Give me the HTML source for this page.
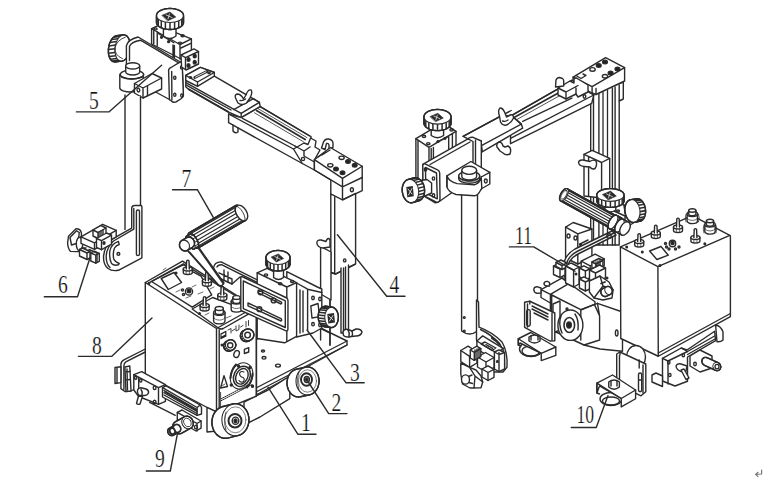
<!DOCTYPE html>
<html><head><meta charset="utf-8">
<style>
html,body{margin:0;padding:0;background:#fff;}
body{width:769px;height:480px;overflow:hidden;font-family:"Liberation Serif",serif;}
svg{display:block;}
.t{font-family:"Liberation Serif",serif;font-size:24.5px;fill:#111;stroke:#fff;stroke-width:0.22px;}
</style></head><body>
<svg width="769" height="480" viewBox="0 0 769 480">
<g fill="none" stroke="#2b2b2b" stroke-width="1.4" stroke-linejoin="round" stroke-linecap="round">

<!-- ===================== LEFT FIGURE ===================== -->
<!-- top slide block under knob A -->
<path fill="#fff" d="M151.6,28.75 L158,25.7 L191.4,38.8 L191.4,53 L181,59 L151.6,44 Z"/>
<path d="M151.6,28.75 L180,44.5 L191.4,38.8 M180,44.5 L180,59 M180.9,48 L191.4,43.2"/>
<path d="M153.75,30 L153.75,44 M157.25,32 L157.25,46 M173,45 L173,57 M174.4,45.5 L174.4,57.5"/>
<path d="M158.6,33.6 L173.9,42.75"/>
<circle cx="161.5" cy="37.3" r="0.9" fill="#222"/><circle cx="168.6" cy="41.7" r="0.9" fill="#222"/>
<ellipse cx="155.5" cy="28.9" rx="1.6" ry="1"/><ellipse cx="182.6" cy="35.8" rx="1.6" ry="1"/><ellipse cx="180" cy="43.1" rx="1.6" ry="1"/>
<!-- knob A -->
<path fill="#fff" d="M163.4,24 L163.4,36 Q169.7,41 176,36 L176,24 Z"/>
<path fill="#fff" d="M156.5,15.5 L156.6,14.9 L156.7,14.3 L157.0,13.7 L157.3,13.1 L157.8,12.5 L158.3,12.0 L158.9,11.5 L159.7,11.0 L160.5,10.6 L161.3,10.1 L162.3,9.8 L163.2,9.4 L164.3,9.2 L165.4,8.9 L166.5,8.7 L167.7,8.6 L168.8,8.5 L170.0,8.5 L171.2,8.5 L172.3,8.6 L173.5,8.7 L174.6,8.9 L175.7,9.2 L176.8,9.4 L177.7,9.8 L178.7,10.1 L179.5,10.6 L180.3,11.0 L181.1,11.5 L181.7,12.0 L182.2,12.5 L182.7,13.1 L183.0,13.7 L183.3,14.3 L183.4,14.9 L183.5,15.5 L183.5,22.5 L183.4,23.1 L183.3,23.7 L183.0,24.3 L182.7,24.9 L182.2,25.5 L181.7,26.0 L181.1,26.5 L180.3,27.0 L179.5,27.4 L178.7,27.9 L177.7,28.2 L176.8,28.6 L175.7,28.8 L174.6,29.1 L173.5,29.3 L172.3,29.4 L171.2,29.5 L170.0,29.5 L168.8,29.5 L167.7,29.4 L166.5,29.3 L165.4,29.1 L164.3,28.8 L163.2,28.6 L162.3,28.2 L161.3,27.9 L160.5,27.4 L159.7,27.0 L158.9,26.5 L158.3,26.0 L157.8,25.5 L157.3,24.9 L157.0,24.3 L156.7,23.7 L156.6,23.1 L156.5,22.5 Z"/>
<path stroke-width="1.5" stroke-linecap="butt" d="M183.3,16.7 L183.3,23.7 M181.7,19.0 L181.7,26.0 M178.7,20.9 L178.7,27.9 M174.6,22.1 L174.6,29.1 M170.0,22.5 L170.0,29.5 M165.4,22.1 L165.4,29.1 M161.3,20.9 L161.3,27.9 M158.3,19.0 L158.3,26.0 M156.7,16.7 L156.7,23.7"/>
<ellipse fill="#fff" stroke-width="1.1" cx="170.0" cy="15.5" rx="13.5" ry="7" transform="rotate(0 170.0 15.5)"/>
<path d="M156.5,15.5 L156.6,14.9 L156.7,14.3 L157.0,13.7 L157.3,13.1 L157.8,12.5 L158.3,12.0 L158.9,11.5 L159.7,11.0 L160.5,10.6 L161.3,10.1 L162.3,9.8 L163.2,9.4 L164.3,9.2 L165.4,8.9 L166.5,8.7 L167.7,8.6 L168.8,8.5 L170.0,8.5 L171.2,8.5 L172.3,8.6 L173.5,8.7 L174.6,8.9 L175.7,9.2 L176.8,9.4 L177.7,9.8 L178.7,10.1 L179.5,10.6 L180.3,11.0 L181.1,11.5 L181.7,12.0 L182.2,12.5 L182.7,13.1 L183.0,13.7 L183.3,14.3 L183.4,14.9 L183.5,15.5 L183.5,22.5 L183.4,23.1 L183.3,23.7 L183.0,24.3 L182.7,24.9 L182.2,25.5 L181.7,26.0 L181.1,26.5 L180.3,27.0 L179.5,27.4 L178.7,27.9 L177.7,28.2 L176.8,28.6 L175.7,28.8 L174.6,29.1 L173.5,29.3 L172.3,29.4 L171.2,29.5 L170.0,29.5 L168.8,29.5 L167.7,29.4 L166.5,29.3 L165.4,29.1 L164.3,28.8 L163.2,28.6 L162.3,28.2 L161.3,27.9 L160.5,27.4 L159.7,27.0 L158.9,26.5 L158.3,26.0 L157.8,25.5 L157.3,24.9 L157.0,24.3 L156.7,23.7 L156.6,23.1 L156.5,22.5 Z"/>
<path fill="#2a2a2a" stroke="#2a2a2a" stroke-width="0.6" d="M162.1,15.3 L170.0,12.0 L175.8,17.0 L167.9,20.8 Z"/>
<path stroke="#fff" stroke-width="0.7" d="M166.0,14.9 L172.0,17.6 M169.5,13.9 L168.0,18.9"/>

<!-- left knob (knurled wheel) -->
<path fill="#fff" d="M108.4,51.2 L108.4,50.0 L108.4,48.9 L108.6,47.8 L108.8,46.6 L109.0,45.5 L109.3,44.4 L109.6,43.3 L110.0,42.3 L110.5,41.4 L111.0,40.4 L111.5,39.6 L112.0,38.8 L112.6,38.1 L113.2,37.5 L113.9,37.0 L114.5,36.5 L115.2,36.2 L115.9,35.9 L116.5,35.7 L123.0,34.9 L123.7,34.9 L124.3,34.9 L125.0,35.1 L125.6,35.3 L126.2,35.6 L126.8,36.1 L127.3,36.6 L127.8,37.2 L128.3,37.9 L128.7,38.7 L129.1,39.5 L129.4,40.4 L129.6,41.4 L129.9,42.4 L130.0,43.4 L130.1,44.5 L130.1,45.6 L130.1,46.8 L130.1,47.9 L129.9,49.0 L129.7,50.2 L129.5,51.3 L129.2,52.4 L128.9,53.5 L128.5,54.5 L128.0,55.4 L127.5,56.4 L127.0,57.2 L126.5,58.0 L125.9,58.7 L125.3,59.3 L124.6,59.8 L124.0,60.3 L123.3,60.6 L122.6,60.9 L122.0,61.1 L115.5,61.9 L114.8,61.9 L114.2,61.9 L113.5,61.7 L112.9,61.5 L112.3,61.2 L111.7,60.7 L111.2,60.2 L110.7,59.6 L110.2,58.9 L109.8,58.1 L109.4,57.3 L109.1,56.4 L108.9,55.4 L108.6,54.4 L108.5,53.4 L108.4,52.3 Z"/>
<path stroke-width="1.5" stroke-linecap="butt" d="M120.7,61.1 L114.2,61.9 M118.6,60.2 L112.1,61.0 M116.9,58.4 L110.4,59.2 M115.7,55.8 L109.2,56.6 M115.0,52.5 L108.5,53.3 M114.9,48.8 L108.4,49.6 M115.4,45.1 L108.9,45.9 M116.5,41.6 L110.0,42.4 M118.1,38.7 L111.6,39.5 M120.0,36.4 L113.5,37.2 M122.2,35.2 L115.7,36.0"/>
<ellipse fill="#fff" stroke-width="1.1" cx="122.5" cy="48.0" rx="7.5" ry="13.2" transform="rotate(8 122.5 48.0)"/>
<path d="M108.4,51.2 L108.4,50.0 L108.4,48.9 L108.6,47.8 L108.8,46.6 L109.0,45.5 L109.3,44.4 L109.6,43.3 L110.0,42.3 L110.5,41.4 L111.0,40.4 L111.5,39.6 L112.0,38.8 L112.6,38.1 L113.2,37.5 L113.9,37.0 L114.5,36.5 L115.2,36.2 L115.9,35.9 L116.5,35.7 L123.0,34.9 L123.7,34.9 L124.3,34.9 L125.0,35.1 L125.6,35.3 L126.2,35.6 L126.8,36.1 L127.3,36.6 L127.8,37.2 L128.3,37.9 L128.7,38.7 L129.1,39.5 L129.4,40.4 L129.6,41.4 L129.9,42.4 L130.0,43.4 L130.1,44.5 L130.1,45.6 L130.1,46.8 L130.1,47.9 L129.9,49.0 L129.7,50.2 L129.5,51.3 L129.2,52.4 L128.9,53.5 L128.5,54.5 L128.0,55.4 L127.5,56.4 L127.0,57.2 L126.5,58.0 L125.9,58.7 L125.3,59.3 L124.6,59.8 L124.0,60.3 L123.3,60.6 L122.6,60.9 L122.0,61.1 L115.5,61.9 L114.8,61.9 L114.2,61.9 L113.5,61.7 L112.9,61.5 L112.3,61.2 L111.7,60.7 L111.2,60.2 L110.7,59.6 L110.2,58.9 L109.8,58.1 L109.4,57.3 L109.1,56.4 L108.9,55.4 L108.6,54.4 L108.5,53.4 L108.4,52.3 Z"/>
<path d="M125.3,37.2 Q117,40 115,47.5 Q114,55 122.5,58.7" stroke-width="0.9"/>

<!-- block 5 -->
<path fill="#fff" d="M126.4,61 L126.4,45.6 Q128,39.5 138.1,37 L179.5,61.5 L182,63.6 L183.4,95.6 L175.6,101.9 L169.4,99.5 L126.4,76 Z"/>
<path d="M129.5,60.5 L129.5,46.4 Q131,42 140.5,40.2 L178.75,62.8"/>
<!-- end flange -->
<path fill="#fff" d="M168.6,70 Q169,68.3 171,67.5 L179.5,62.3 Q182,61.5 182.2,64 L183.4,95 Q183.4,97 181.5,98.5 L176,101.9 Q173,103 171.5,101 L169.4,99.5 Z"/>
<path d="M171.7,71.5 L171.9,99.8"/>
<ellipse cx="174.8" cy="77.7" rx="1.1" ry="1.6"/><ellipse cx="174.8" cy="94.8" rx="1.1" ry="1.6"/>
<ellipse cx="181.6" cy="67.5" rx="1.1" ry="1.6"/><ellipse cx="181.8" cy="95.6" rx="1.1" ry="1.6"/>
<!-- mounting block with holes -->
<path fill="#fff" d="M181,55 L194,48.9 L198.5,51.5 L198.5,64 L186,70 L181.6,67 Z"/>
<path d="M181,55 L185.5,57.6 L198.5,51.5 M185.5,57.6 L185.5,69.5"/>
<ellipse cx="188.5" cy="59.4" rx="1.5" ry="1.8" fill="#222"/><ellipse cx="194.7" cy="56" rx="1.5" ry="1.8" fill="#222"/>
<ellipse cx="188.5" cy="65.5" rx="1.5" ry="1.8" fill="#222"/><ellipse cx="194.7" cy="62.2" rx="1.5" ry="1.8" fill="#222"/>
<!-- beam segment 1 -->
<path fill="#fff" d="M185.8,75.4 L200.4,67.4 L214.3,72.5 L214.3,76.1 L259.4,102.4 L260.2,106.7 L241.2,117.7 L228.1,111.8 L188.7,89.3 L185.8,87 Z"/>
<path d="M185.8,82.7 L241.2,113.3 L259.4,102.4 M241.2,113.3 L241.2,117.7 M186.3,85.2 L231,110"/>
<path stroke-width="1.9" d="M188.7,89.3 L228.1,111.8"/>
<path d="M233.7,109.6 L253.4,98.6 L259.4,102.4"/>
<!-- plate with slot -->
<path fill="#fff" d="M185.8,75.4 L200.4,67.4 L214.3,72.5 L214.3,76.1 L197.5,86.3 L185.8,80.5 Z"/>
<path d="M185.8,75.4 L197.5,82 L214.3,72.5 M197.5,82 L197.5,86.3"/>
<path stroke-width="2.8" d="M194.8,77.6 L206.8,71.4"/>
<path stroke="#fff" stroke-width="0.9" d="M195.5,77.2 L206,71.8"/>
<ellipse cx="190.5" cy="77.5" rx="1.2" ry="0.8"/><ellipse cx="209" cy="72.8" rx="1.2" ry="0.8"/>
<!-- wing nut 1 -->
<path fill="#fff" d="M236,99 Q234,95 237,94 Q241,94 243.5,99 L246,95 Q248,89 251,90 Q253,92 250,98 L246.5,103 Q242,106 238,103 Z"/>
<path d="M240,100.5 Q243,101 245.5,99"/>

<!-- rail + housing -->
<path fill="#fff" d="M228.6,114 L241.2,117.7 L260.2,106.7 L311,136.5 L311,150 L302.3,163.5 L228.6,122.7 Z"/>
<path d="M228.6,114 L293.5,149 M242.5,118.3 L295,146 M260.2,106.7 L309.5,136"/>
<path stroke-width="1.7" d="M256.5,110.5 L305.2,139.6"/>
<path stroke-width="0.8" d="M254.5,112.8 L303.5,141.8 M258,108.6 L307,137.6"/>
<path d="M233,125 L233,131 Q235,134 238,132 L238,128"/>
<!-- hook clamp at end of rail -->
<path fill="#fff" d="M293.5,149 L304,143 L308,144.5 L310.6,138 L316,141 L315,147 L320,150 L314.4,160 L314.4,170 L302.3,163.5 Z"/>
<path d="M295,146 L304,151 L310,147 M304,151 L304,156 L314.4,162"/>
<circle cx="303" cy="159" r="1.6"/>
<path fill="#fff" d="M321.5,148 L323.5,142 Q325,138.5 328.5,139 Q332.5,139.5 333,143 L333,147.5 L329,149.5 L329,145 Q328.5,143 326.5,143.5 L325,149.5 Z"/>

<!-- end block of beam -->
<path fill="#fff" d="M314.4,159.7 L330.3,147.5 L362.2,166.25 L362.2,190.6 L342.5,200 L330.8,194 L330.8,180 L314.4,170 Z"/>
<path d="M314.4,159.7 L342.5,178.4 L362.2,166.25 M342.5,178.4 L342.5,200 M314.4,170 L342.5,186.9 L362.2,177.5"/>
<path d="M322,155 L330,150 M318,157 L326,152"/>
<ellipse cx="348" cy="161.6" rx="2.3" ry="1.8" fill="#222"/><ellipse cx="354.7" cy="165.3" rx="2.3" ry="1.8" fill="#222"/><ellipse cx="336" cy="169" rx="2.3" ry="1.8" fill="#222"/><ellipse cx="342.5" cy="172.8" rx="2.3" ry="1.8" fill="#222"/>
<ellipse cx="341.6" cy="157.8" rx="2.6" ry="1.7"/><ellipse cx="330.3" cy="165.3" rx="2.6" ry="1.7"/>
<ellipse cx="351.9" cy="189.7" rx="1.5" ry="2"/>

<!-- vertical post (4) -->
<path fill="#fff" d="M330.8,194 L342.5,200 L355.6,193.5 L355.6,264 L335.6,274 L330.8,272.5 Z"/>
<path d="M334.7,197 L334.7,273.5 M330.8,272.5 L335.6,274 L354.4,264.5"/>
<ellipse cx="344.7" cy="260.4" rx="1.2" ry="1.5"/>
<path fill="#fff" d="M341,268 L341,333 L348.5,333 L348.5,265"/>
<path d="M343.5,268 L343.5,333 M345.5,267 L345.5,333"/>
<!-- clamp on block 5 (cylinder + collar + arm) -->
<path fill="#fff" d="M119.8,74.5 L119.8,88 A11,4 0 0 0 141.8,88 L143.6,74.5 Z"/>
<ellipse fill="#fff" cx="131.9" cy="74.5" rx="11.7" ry="4.5"/>
<path d="M121.5,77 Q131,81 142,77"/>
<path fill="#fff" d="M125.7,65.9 L125.7,72 A7,3 0 0 0 139.7,72 L139.7,65.9 Z"/>
<ellipse fill="#fff" cx="132.7" cy="65.9" rx="7" ry="3.1"/>
<path fill="#fff" d="M134.5,83.5 L152,73.5 L161.6,78 L161.6,89 L143,98 L134.4,93 Z"/>
<path d="M134.5,83.5 L143,88 L161.6,78 M143,88 L143,98 M147.5,86 L147.5,95.8"/>
<ellipse cx="138.4" cy="90" rx="1.3" ry="2" transform="rotate(-20 138.4 90)"/>
<!-- left rod -->
<path fill="#fff" stroke="none" d="M125,96 L140.5,96 L140.5,230 L125,230 Z"/>
<path d="M125,95 L125,229.6 M140.5,96 L140.5,205"/>
<!-- leader 5 -->
<path d="M76.4,111.9 L108.9,111.9 L161.6,65.2"/>
<text class="t" x="89" y="108.6" transform="translate(89 0) scale(0.8 1) translate(-89 0)">5</text>

<!-- bracket (torch holder plate) -->
<path fill="#fff" d="M131.7,208 Q132,205.5 134.8,205.5 L141.1,205.5 Q141.9,205.8 141.9,207 L141.9,257.8 L118.4,270.3 Q112,271.5 108,268.5 Q103,264 103.6,256 Q104.5,246 112.2,239.1 L131.7,228.1 Z"/>
<path d="M133.8,208.5 L133.8,229.2 L113.5,241 Q106.8,247 106.2,256 Q106,264 110,267.5"/>
<rect x="136.4" y="210" width="3.1" height="45.5" rx="1.55"/>
<path d="M118.4,241.4 Q111,244 109.8,251 Q109,259 111.5,263.5 Q114,266 118.4,264.8 L119.2,263.3 Q115,262 113.75,259 Q112.5,253 114.5,248 Q116,245.5 119.2,244.5 Z"/>
<circle cx="118.4" cy="253.9" r="1.4"/>

<!-- torch clamp 6 -->
<!-- thumb knob at left -->
<path fill="#fff" d="M68.5,236.3 L76,228.7 Q79,228.5 80.5,230.5 L81.5,233.5 L80.5,249 Q79.5,251.8 77,251.6 L70.5,251.4 Q68,249 67.6,243 Z"/>
<path d="M70,237.5 L76.5,230.8 L79.3,232.5 L78,243 L71.5,245 Z"/>
<ellipse fill="#fff" cx="79.5" cy="244" rx="3.2" ry="6.8"/>
<path d="M82,240 L86,240 M82,248 L86,248"/>
<path fill="#fff" d="M81.0,236.8 L102.7,224.3 L116.2,230.3 L116.2,236.8 L94.5,249.3 L81.0,243.3 Z"/><path d="M81.0,236.8 L94.5,242.8 L116.2,230.3 M94.5,242.8 L94.5,249.3"/>
<path fill="#fff" d="M93.0,230.0 L101.0,225.5 L106.0,228.0 L106.0,234.0 L98.0,238.5 L93.0,236.0 Z"/><path d="M93.0,230.0 L98.0,232.5 L106.0,228.0 M98.0,232.5 L98.0,238.5"/>
<path d="M99,232 L99,238 M101,231 L101,237 M103,230 L103,236"/>
<path fill="#fff" d="M96.5,238.5 L106.5,233.0 L111.5,235.2 L111.5,244.2 L101.5,249.7 L96.5,247.5 Z"/><path d="M96.5,238.5 L101.5,240.7 L111.5,235.2 M101.5,240.7 L101.5,249.7"/>
<path fill="#fff" d="M79.5,249.5 L82.5,248.0 L90.0,251.5 L90.0,258.0 L87.0,259.5 L79.5,256.0 Z"/><path d="M79.5,249.5 L87.0,253.0 L90.0,251.5 M87.0,253.0 L87.0,259.5"/>
<path fill="#fff" d="M90.8,253.0 L94.3,251.2 L99.3,253.4 L99.3,261.4 L95.8,263.2 L90.8,261.0 Z"/><path d="M90.8,253.0 L95.8,255.2 L99.3,253.4 M95.8,255.2 L95.8,263.2"/>
<path d="M89,249.5 L97,253 M97,253 L97,262"/>
<ellipse cx="104" cy="243" rx="1" ry="1.3" fill="#222"/>
<path d="M90,257.8 L77.5,296.8 L44.3,296.8"/>
<text class="t" x="58" y="293.0" transform="translate(58 0) scale(0.8 1) translate(-58 0)">6</text>

<!-- ===== base plate & lower body ===== -->
<path fill="#fff" d="M255,340 L300,318 L347,341 L347,345 L258,394 L210,414 Z"/>
<path d="M300,318 L330,333 M256,388 L347,341 M256,392 L347,345"/>
<ellipse cx="264" cy="357.8" rx="2" ry="1.3"/><ellipse cx="278" cy="365.6" rx="2.4" ry="1.5"/><ellipse cx="263" cy="351" rx="1.6" ry="1"/>
<!-- lower body under plate -->
<path fill="#fff" d="M244,402 L268,390 L289.8,376 L289.8,398.7 L260,417 L244,425 Z"/>
<!-- wheel 2 -->
<path fill="#fff" d="M287.0,383.0 L287.0,381.8 L287.2,380.6 L287.4,379.4 L287.7,378.2 L288.1,377.1 L288.5,376.0 L289.1,375.0 L289.7,374.0 L290.4,373.1 L291.1,372.3 L291.9,371.5 L292.8,370.9 L293.6,370.3 L294.6,369.8 L295.5,369.5 L296.5,369.2 L305.5,367.2 L306.5,367.1 L307.5,367.0 L308.5,367.1 L309.5,367.2 L310.5,367.5 L311.4,367.8 L312.4,368.3 L313.2,368.9 L314.1,369.5 L314.9,370.3 L315.6,371.1 L316.3,372.0 L316.9,373.0 L317.5,374.0 L317.9,375.1 L318.3,376.2 L318.6,377.4 L318.8,378.6 L319.0,379.8 L319.0,381.0 L319.0,382.2 L318.8,383.4 L318.6,384.6 L318.3,385.8 L317.9,386.9 L317.5,388.0 L316.9,389.0 L316.3,390.0 L315.6,390.9 L314.9,391.7 L314.1,392.5 L313.2,393.1 L312.4,393.7 L311.4,394.2 L310.5,394.5 L309.5,394.8 L300.5,396.8 L299.5,396.9 L298.5,397.0 L297.5,396.9 L296.5,396.8 L295.5,396.5 L294.6,396.2 L293.6,395.7 L292.8,395.1 L291.9,394.5 L291.1,393.7 L290.4,392.9 L289.7,392.0 L289.1,391.0 L288.5,390.0 L288.1,388.9 L287.7,387.8 L287.4,386.6 L287.2,385.4 L287.0,384.2 Z"/>
<ellipse fill="#fff" stroke-width="1.1" cx="307.5" cy="381.0" rx="11.5" ry="14" transform="rotate(0 307.5 381.0)"/>
<path d="M287.0,383.0 L287.0,381.8 L287.2,380.6 L287.4,379.4 L287.7,378.2 L288.1,377.1 L288.5,376.0 L289.1,375.0 L289.7,374.0 L290.4,373.1 L291.1,372.3 L291.9,371.5 L292.8,370.9 L293.6,370.3 L294.6,369.8 L295.5,369.5 L296.5,369.2 L305.5,367.2 L306.5,367.1 L307.5,367.0 L308.5,367.1 L309.5,367.2 L310.5,367.5 L311.4,367.8 L312.4,368.3 L313.2,368.9 L314.1,369.5 L314.9,370.3 L315.6,371.1 L316.3,372.0 L316.9,373.0 L317.5,374.0 L317.9,375.1 L318.3,376.2 L318.6,377.4 L318.8,378.6 L319.0,379.8 L319.0,381.0 L319.0,382.2 L318.8,383.4 L318.6,384.6 L318.3,385.8 L317.9,386.9 L317.5,388.0 L316.9,389.0 L316.3,390.0 L315.6,390.9 L314.9,391.7 L314.1,392.5 L313.2,393.1 L312.4,393.7 L311.4,394.2 L310.5,394.5 L309.5,394.8 L300.5,396.8 L299.5,396.9 L298.5,397.0 L297.5,396.9 L296.5,396.8 L295.5,396.5 L294.6,396.2 L293.6,395.7 L292.8,395.1 L291.9,394.5 L291.1,393.7 L290.4,392.9 L289.7,392.0 L289.1,391.0 L288.5,390.0 L288.1,388.9 L287.7,387.8 L287.4,386.6 L287.2,385.4 L287.0,384.2 Z"/>
<ellipse cx="307.5" cy="381" rx="9" ry="11.2" stroke-width="0.6"/>
<ellipse cx="306.5" cy="379.5" rx="5.5" ry="6.3" stroke-width="1.9"/>
<ellipse cx="306.8" cy="379.5" rx="2.6" ry="3"/>
<ellipse cx="306.8" cy="379.5" rx="1.2" ry="1.5" fill="#222"/>
<path d="M299,372 Q296,380 299,390" stroke-width="0.8"/>
<!-- ===== main box 8 ===== -->
<path fill="#fff" d="M145.3,282.5 L182.5,261.2 L255,307 L256.4,307 L256.4,396 L216.5,412.5 L145.3,374.4 Z"/>
<path d="M145.3,282.5 L216.5,328.5 L255,307 M216.5,328.5 L216.5,412.5 M219.2,330 L219.2,411"/>
<path d="M148,283.3 L183.4,263.8 L253,306.5"/>
<path d="M255,307 L256.4,308 L256.4,396"/>
<!-- top face panels -->
<path d="M151.5,281.5 L181.6,265.6 Q184,264.5 186,265.8 L193,271.8 L201,276.2 L211.7,294.8 L192.2,307.2 Z"/>
<path d="M192.2,309 L212.6,297.5 L233.8,305.4 L249.7,313.4 L223.2,328.5 Q221,329.5 219,328.5 Z"/>
<path d="M161.2,278.5 L174,272.5 L181.6,282.5 L168.3,289.5 Z"/>
<circle cx="189" cy="291.5" r="3.6"/><circle cx="189" cy="291" r="1.8" fill="#222"/>
<circle cx="182.5" cy="290" r="1.1"/><circle cx="183.5" cy="294.5" r="1.1"/>
<path stroke-width="0.7" d="M176,292 L180,290 M186,298 L191,296 M192,287 L196,285 M198,294 L203,292 M210,289 L214,287 M205,315 L209,313 M226,318 L231,316 M236,305 L241,303 M163,270 L166,268"/>
<circle cx="176" cy="273" r="0.9" fill="#222"/><circle cx="149" cy="283.5" r="0.7" fill="#222"/><circle cx="199.5" cy="313.5" r="0.8" fill="#222"/>
<!-- toggles/connectors on top -->
<path fill="#fff" d="M183.3,269.0 L183.3,272.5 A4.5,2.0 0 0 0 192.3,272.5 L192.3,269.0 Z"/>
<ellipse fill="#fff" cx="187.8" cy="269.0" rx="4.5" ry="2.0"/>
<path d="M186.2,270.9 L186.2,274.4 M189.4,270.9 L189.4,274.4" stroke-width="0.7"/>
<path fill="#fff" d="M186.3,269.0 L186.6,261.0 Q187.8,259.2 189.0,261.0 L189.3,269.0"/>
<path fill="#fff" d="M202.4,280.7 L202.4,284.2 A4.5,2.0 0 0 0 211.4,284.2 L211.4,280.7 Z"/>
<ellipse fill="#fff" cx="206.9" cy="280.7" rx="4.5" ry="2.0"/>
<path d="M205.3,282.6 L205.3,286.1 M208.5,282.6 L208.5,286.1" stroke-width="0.7"/>
<path fill="#fff" d="M205.4,280.7 L205.7,272.7 Q206.9,270.9 208.1,272.7 L208.4,280.7"/>
<path fill="#fff" d="M217.8,294.9 L217.8,298.4 A4.5,2.0 0 0 0 226.8,298.4 L226.8,294.9 Z"/>
<ellipse fill="#fff" cx="222.3" cy="294.9" rx="4.5" ry="2.0"/>
<path d="M220.7,296.8 L220.7,300.3 M223.9,296.8 L223.9,300.3" stroke-width="0.7"/>
<path fill="#fff" d="M220.8,294.9 L221.1,287.4 Q222.3,285.6 223.5,287.4 L223.8,294.9"/>
<path fill="#fff" d="M200.1,305.5 L200.1,309.0 A4.5,2.0 0 0 0 209.1,309.0 L209.1,305.5 Z"/>
<ellipse fill="#fff" cx="204.6" cy="305.5" rx="4.5" ry="2.0"/>
<path d="M203.0,307.4 L203.0,310.9 M206.2,307.4 L206.2,310.9" stroke-width="0.7"/>
<path fill="#fff" d="M203.1,305.5 L203.4,297.5 Q204.6,295.7 205.8,297.5 L206.1,305.5"/>
<path fill="#fff" d="M213.6,312.5 L213.6,321.0 A5.7,2.9 0 0 0 225.0,321.0 L225.0,312.5 Z"/>
<ellipse fill="#fff" cx="219.3" cy="312.5" rx="5.7" ry="2.9"/>
<path fill="#fff" d="M215.3,308.5 L215.3,312.5 A4.0,2.0 0 0 0 223.3,312.5 L223.3,308.5 Z"/>
<ellipse fill="#fff" cx="219.3" cy="308.5" rx="4.0" ry="2.0"/>
<path d="M213.6,317.2 A5.7,2.9 0 0 0 225.0,317.2" stroke-width="0.7"/>
<path fill="#fff" d="M231.2,301.5 L231.2,309.5 A5.3,2.6 0 0 0 241.8,309.5 L241.8,301.5 Z"/>
<ellipse fill="#fff" cx="236.5" cy="301.5" rx="5.3" ry="2.6"/>
<path fill="#fff" d="M232.8,297.5 L232.8,301.5 A3.7,1.9 0 0 0 240.2,301.5 L240.2,297.5 Z"/>
<ellipse fill="#fff" cx="236.5" cy="297.5" rx="3.7" ry="1.9"/>
<path d="M231.2,305.9 A5.3,2.6 0 0 0 241.8,305.9" stroke-width="0.7"/>
<!-- right face controls -->
<path fill="#222" stroke="none" d="M220.4,333.5 L226.4,330.5 L226.4,336.5 L220.4,339.5 Z"/>
<path fill="#fff" stroke="none" d="M221.5,334.5 L225.2,332.6 L225.2,334.5 L221.5,336.5 Z"/>
<path stroke-width="0.9" d="M228,330 L231,328.5 L231,333 M232,331 L235,329 M236,326 L236,331 L239,329.5 L239,325 M240.5,327 L243,325.5 M246,321.5 L246,327 M248.5,320.5 L248.5,325.5"/>
<path fill="#fff" d="M223.6,346.0 L223.6,345.5 L223.7,345.1 L223.8,344.7 L223.9,344.2 L224.1,343.8 L224.3,343.4 L224.5,343.0 L224.8,342.7 L225.1,342.3 L225.5,342.0 L225.8,341.7 L226.2,341.5 L228.0,340.5 L228.4,340.3 L228.8,340.1 L229.3,340.0 L229.7,339.9 L230.1,339.8 L230.6,339.8 L231.1,339.8 L231.5,339.9 L231.9,340.0 L232.4,340.1 L232.8,340.3 L233.2,340.5 L233.6,340.7 L233.9,341.0 L234.3,341.3 L234.6,341.7 L234.9,342.0 L235.1,342.4 L235.3,342.8 L235.5,343.2 L235.6,343.7 L235.7,344.1 L235.8,344.5 L235.8,345.0 L235.8,345.5 L235.7,345.9 L235.6,346.3 L235.5,346.8 L235.3,347.2 L235.1,347.6 L234.9,348.0 L234.6,348.3 L234.3,348.7 L233.9,349.0 L233.6,349.3 L233.2,349.5 L231.4,350.5 L231.0,350.7 L230.6,350.9 L230.1,351.0 L229.7,351.1 L229.3,351.2 L228.8,351.2 L228.3,351.2 L227.9,351.1 L227.5,351.0 L227.0,350.9 L226.6,350.7 L226.2,350.5 L225.8,350.3 L225.5,350.0 L225.1,349.7 L224.8,349.3 L224.5,349.0 L224.3,348.6 L224.1,348.2 L223.9,347.8 L223.8,347.3 L223.7,346.9 L223.6,346.5 Z"/>
<path stroke-width="1.3" stroke-linecap="butt" d="M232.9,349.7 L231.1,350.7 M230.6,350.2 L228.8,351.2 M228.3,349.7 L226.5,350.7 M226.5,348.2 L224.7,349.2 M225.5,346.2 L223.7,347.2 M225.5,343.8 L223.7,344.8 M226.5,341.8 L224.7,342.8"/>
<ellipse fill="#fff" stroke-width="1.1" cx="230.6" cy="345.0" rx="5.2" ry="5.2" transform="rotate(0 230.6 345.0)"/>
<path d="M223.6,346.0 L223.6,345.5 L223.7,345.1 L223.8,344.7 L223.9,344.2 L224.1,343.8 L224.3,343.4 L224.5,343.0 L224.8,342.7 L225.1,342.3 L225.5,342.0 L225.8,341.7 L226.2,341.5 L228.0,340.5 L228.4,340.3 L228.8,340.1 L229.3,340.0 L229.7,339.9 L230.1,339.8 L230.6,339.8 L231.1,339.8 L231.5,339.9 L231.9,340.0 L232.4,340.1 L232.8,340.3 L233.2,340.5 L233.6,340.7 L233.9,341.0 L234.3,341.3 L234.6,341.7 L234.9,342.0 L235.1,342.4 L235.3,342.8 L235.5,343.2 L235.6,343.7 L235.7,344.1 L235.8,344.5 L235.8,345.0 L235.8,345.5 L235.7,345.9 L235.6,346.3 L235.5,346.8 L235.3,347.2 L235.1,347.6 L234.9,348.0 L234.6,348.3 L234.3,348.7 L233.9,349.0 L233.6,349.3 L233.2,349.5 L231.4,350.5 L231.0,350.7 L230.6,350.9 L230.1,351.0 L229.7,351.1 L229.3,351.2 L228.8,351.2 L228.3,351.2 L227.9,351.1 L227.5,351.0 L227.0,350.9 L226.6,350.7 L226.2,350.5 L225.8,350.3 L225.5,350.0 L225.1,349.7 L224.8,349.3 L224.5,349.0 L224.3,348.6 L224.1,348.2 L223.9,347.8 L223.8,347.3 L223.7,346.9 L223.6,346.5 Z"/>
<circle cx="230.2" cy="345.3" r="2.6"/>
<path fill="#fff" d="M240.4,335.8 L240.4,335.3 L240.5,334.8 L240.6,334.3 L240.7,333.8 L240.9,333.3 L241.2,332.9 L241.4,332.5 L241.8,332.1 L242.1,331.7 L242.5,331.4 L242.9,331.0 L243.3,330.8 L245.1,329.8 L245.5,329.5 L246.0,329.3 L246.5,329.2 L247.0,329.1 L247.5,329.0 L248.0,329.0 L248.5,329.0 L249.0,329.1 L249.5,329.2 L250.0,329.3 L250.5,329.5 L250.9,329.8 L251.3,330.0 L251.7,330.4 L252.1,330.7 L252.4,331.1 L252.8,331.5 L253.0,331.9 L253.3,332.3 L253.5,332.8 L253.6,333.3 L253.7,333.8 L253.8,334.3 L253.8,334.8 L253.8,335.3 L253.7,335.8 L253.6,336.3 L253.5,336.8 L253.3,337.3 L253.0,337.7 L252.8,338.1 L252.4,338.5 L252.1,338.9 L251.7,339.2 L251.3,339.6 L250.9,339.8 L249.1,340.8 L248.7,341.1 L248.2,341.3 L247.7,341.4 L247.2,341.5 L246.7,341.6 L246.2,341.6 L245.7,341.6 L245.2,341.5 L244.7,341.4 L244.2,341.3 L243.7,341.1 L243.3,340.8 L242.9,340.6 L242.5,340.2 L242.1,339.9 L241.8,339.5 L241.4,339.1 L241.2,338.7 L240.9,338.3 L240.7,337.8 L240.6,337.3 L240.5,336.8 L240.4,336.3 Z"/>
<path stroke-width="1.3" stroke-linecap="butt" d="M250.5,340.0 L248.7,341.0 M248.0,340.6 L246.2,341.6 M245.5,340.0 L243.7,341.0 M243.5,338.4 L241.7,339.4 M242.3,336.1 L240.5,337.1 M242.3,333.5 L240.5,334.5 M243.5,331.2 L241.7,332.2"/>
<ellipse fill="#fff" stroke-width="1.1" cx="248.0" cy="334.8" rx="5.8" ry="5.8" transform="rotate(0 248.0 334.8)"/>
<path d="M240.4,335.8 L240.4,335.3 L240.5,334.8 L240.6,334.3 L240.7,333.8 L240.9,333.3 L241.2,332.9 L241.4,332.5 L241.8,332.1 L242.1,331.7 L242.5,331.4 L242.9,331.0 L243.3,330.8 L245.1,329.8 L245.5,329.5 L246.0,329.3 L246.5,329.2 L247.0,329.1 L247.5,329.0 L248.0,329.0 L248.5,329.0 L249.0,329.1 L249.5,329.2 L250.0,329.3 L250.5,329.5 L250.9,329.8 L251.3,330.0 L251.7,330.4 L252.1,330.7 L252.4,331.1 L252.8,331.5 L253.0,331.9 L253.3,332.3 L253.5,332.8 L253.6,333.3 L253.7,333.8 L253.8,334.3 L253.8,334.8 L253.8,335.3 L253.7,335.8 L253.6,336.3 L253.5,336.8 L253.3,337.3 L253.0,337.7 L252.8,338.1 L252.4,338.5 L252.1,338.9 L251.7,339.2 L251.3,339.6 L250.9,339.8 L249.1,340.8 L248.7,341.1 L248.2,341.3 L247.7,341.4 L247.2,341.5 L246.7,341.6 L246.2,341.6 L245.7,341.6 L245.2,341.5 L244.7,341.4 L244.2,341.3 L243.7,341.1 L243.3,340.8 L242.9,340.6 L242.5,340.2 L242.1,339.9 L241.8,339.5 L241.4,339.1 L241.2,338.7 L240.9,338.3 L240.7,337.8 L240.6,337.3 L240.5,336.8 L240.4,336.3 Z"/>
<circle cx="247.6" cy="335.1" r="2.8"/>
<ellipse cx="236.6" cy="354" rx="2.6" ry="3.6" transform="rotate(20 236.6 354)"/>
<path d="M244.4,349.3 L248.7,347.6 L248.7,352 L244.4,353.5 Z"/>
<ellipse cx="241.6" cy="376" rx="10.8" ry="13.6" transform="rotate(25 241.6 376)" stroke-width="1.1"/>
<path stroke-width="2" d="M236,364.5 Q231,370 230.5,378 M247,387.5 Q252,382 252.5,374"/>
<ellipse cx="241.9" cy="376.3" rx="8" ry="10.5" transform="rotate(25 241.9 376.3)" stroke-width="1.5"/>
<ellipse cx="241.9" cy="376.3" rx="5.8" ry="8.2" transform="rotate(25 241.9 376.3)"/>
<path stroke-width="1.1" d="M244,372 Q240,370.5 239.5,374 Q240,377 243,377.5 Q245.5,379 243,382 Q240,382.5 239,380.5"/>
<circle cx="238.6" cy="366.2" r="1" fill="#222"/><circle cx="231.3" cy="385" r="1" fill="#222"/><circle cx="252.5" cy="386.2" r="1" fill="#222"/><circle cx="250" cy="367.5" r="1" fill="#222"/>
<path d="M220.6,388 L224,375.6 L227.5,386.5 Z"/>
<path stroke-width="0.8" d="M222.5,385.5 L225,384"/>
<path stroke-width="1" stroke-dasharray="1.3 0.9" d="M221.3,398.7 L250,383.7 M221.3,400.6 L252,384.6"/>
<path stroke-width="0.9" d="M220.6,392.5 L220.6,407.5"/>
<circle cx="252.5" cy="386" r="0.8" fill="#222"/><circle cx="222" cy="345" r="0.8" fill="#222"/>
<!-- ===== slide 3 assembly ===== -->
<!-- wing bolt near post -->
<path fill="#fff" d="M320.6,246.3 L331,252 L331,300 L320.6,294 Z"/>
<path fill="#fff" d="M316.8,243 Q317,239.5 321,240 L326,241.5 Q327,238 329,238.5 Q330.5,240 330,243.5 L330,247 L323,248 Q317.5,247.5 316.8,243 Z"/>

<path d="M320.6,294 L320.6,340"/>
<path stroke-width="1.8" d="M330,300 L330,345"/>
<!-- right slide body (behind) -->
<path fill="#fff" d="M286.8,271.7 L317.4,287 L321.8,289 L321.8,328 L313,333 L296.6,337 L286.8,300 Z"/>
<path d="M296.6,283 L307.6,289.2 L321.8,292.5 M307.6,289.2 L307.6,330"/>
<path d="M300,290 L300,333 M303,291 L303,332"/>
<ellipse cx="313" cy="298" rx="1.3" ry="1.7"/><ellipse cx="320" cy="299" rx="1.3" ry="1.7"/><ellipse cx="313" cy="324.2" rx="1.3" ry="1.7"/><ellipse cx="320" cy="325" rx="1.3" ry="1.7"/>
<!-- long rounded frame (behind plate) -->
<path fill="#fff" d="M213.5,268.4 Q214,262 221.1,261.9 L288,295 L288,300 L240,277 L232,284 L219,278 Z"/>
<path d="M217,267 Q218,264.5 222,264.8 L285,296.5"/>
<path d="M219,272.8 L232,279 L232,284 M224,270 L224,280 M228,272 L228,282"/>
<!-- block under knob B -->
<path fill="#fff" d="M257.2,272.8 L267,268.4 L296.6,282.7 L296.6,336.3 L284.6,342.8 L257.2,338.5 Z"/>
<path d="M257.2,272.8 L286.8,287 L296.6,282.7 M286.8,287 L286.8,341"/>
<ellipse cx="266" cy="275" rx="1.7" ry="1.1"/><ellipse cx="280.2" cy="283.8" rx="1.7" ry="1.1"/><ellipse cx="292.2" cy="281.6" rx="1.7" ry="1.1"/>
<!-- slotted front plate -->
<path fill="#fff" d="M240.8,278 Q241,276 243,277 L286.8,298 Q288,299 288,301 L287.9,329.7 Q287.5,331.5 285.5,330.6 L242,311 Q240.8,310.5 240.8,309 Z"/>
<path d="M243.3,281 L285.3,300.9 L285.3,327.5 L243.3,308.6 Z"/>
<path d="M258.3,290 L281,301.8 Q282.5,303 281,304 L258.3,292.9 Z" />
<path d="M248,303 L281,318.6 Q282.3,320 281,321 L248,305.8 Z"/>
<circle cx="260.5" cy="292.3" r="2.4"/><circle cx="273.6" cy="300.5" r="2.4"/><circle cx="259.4" cy="309.2" r="2.4"/>
<!-- knob B -->
<path fill="#fff" d="M273.6,266 L273.6,277.5 Q278.5,281.5 283.5,277.5 L283.5,266 Z"/>
<path fill="#fff" d="M266.0,257.5 L266.0,256.9 L266.2,256.3 L266.4,255.7 L266.7,255.1 L267.1,254.5 L267.6,254.0 L268.2,253.5 L268.8,253.0 L269.5,252.6 L270.3,252.1 L271.1,251.8 L272.0,251.4 L272.9,251.2 L273.9,250.9 L274.9,250.7 L275.9,250.6 L277.0,250.5 L278.0,250.5 L279.0,250.5 L280.1,250.6 L281.1,250.7 L282.1,250.9 L283.1,251.2 L284.0,251.4 L284.9,251.8 L285.7,252.1 L286.5,252.6 L287.2,253.0 L287.8,253.5 L288.4,254.0 L288.9,254.5 L289.3,255.1 L289.6,255.7 L289.8,256.3 L290.0,256.9 L290.0,257.5 L290.0,264.0 L290.0,264.6 L289.8,265.2 L289.6,265.8 L289.3,266.4 L288.9,267.0 L288.4,267.5 L287.8,268.0 L287.2,268.5 L286.5,268.9 L285.7,269.4 L284.9,269.7 L284.0,270.1 L283.1,270.3 L282.1,270.6 L281.1,270.8 L280.1,270.9 L279.0,271.0 L278.0,271.0 L277.0,271.0 L275.9,270.9 L274.9,270.8 L273.9,270.6 L272.9,270.3 L272.0,270.1 L271.1,269.7 L270.3,269.4 L269.5,268.9 L268.8,268.5 L268.2,268.0 L267.6,267.5 L267.1,267.0 L266.7,266.4 L266.4,265.8 L266.2,265.2 L266.0,264.6 L266.0,264.0 Z"/>
<path stroke-width="1.5" stroke-linecap="butt" d="M289.8,258.7 L289.8,265.2 M288.4,261.0 L288.4,267.5 M285.7,262.9 L285.7,269.4 M282.1,264.1 L282.1,270.6 M278.0,264.5 L278.0,271.0 M273.9,264.1 L273.9,270.6 M270.3,262.9 L270.3,269.4 M267.6,261.0 L267.6,267.5 M266.2,258.7 L266.2,265.2"/>
<ellipse fill="#fff" stroke-width="1.1" cx="278.0" cy="257.5" rx="12" ry="7" transform="rotate(0 278.0 257.5)"/>
<path d="M266.0,257.5 L266.0,256.9 L266.2,256.3 L266.4,255.7 L266.7,255.1 L267.1,254.5 L267.6,254.0 L268.2,253.5 L268.8,253.0 L269.5,252.6 L270.3,252.1 L271.1,251.8 L272.0,251.4 L272.9,251.2 L273.9,250.9 L274.9,250.7 L275.9,250.6 L277.0,250.5 L278.0,250.5 L279.0,250.5 L280.1,250.6 L281.1,250.7 L282.1,250.9 L283.1,251.2 L284.0,251.4 L284.9,251.8 L285.7,252.1 L286.5,252.6 L287.2,253.0 L287.8,253.5 L288.4,254.0 L288.9,254.5 L289.3,255.1 L289.6,255.7 L289.8,256.3 L290.0,256.9 L290.0,257.5 L290.0,264.0 L290.0,264.6 L289.8,265.2 L289.6,265.8 L289.3,266.4 L288.9,267.0 L288.4,267.5 L287.8,268.0 L287.2,268.5 L286.5,268.9 L285.7,269.4 L284.9,269.7 L284.0,270.1 L283.1,270.3 L282.1,270.6 L281.1,270.8 L280.1,270.9 L279.0,271.0 L278.0,271.0 L277.0,271.0 L275.9,270.9 L274.9,270.8 L273.9,270.6 L272.9,270.3 L272.0,270.1 L271.1,269.7 L270.3,269.4 L269.5,268.9 L268.8,268.5 L268.2,268.0 L267.6,267.5 L267.1,267.0 L266.7,266.4 L266.4,265.8 L266.2,265.2 L266.0,264.6 L266.0,264.0 Z"/>
<path fill="#2a2a2a" stroke="#2a2a2a" stroke-width="0.6" d="M271.3,257.0 L278.4,254.0 L283.6,258.5 L276.5,261.9 Z"/>
<path stroke="#fff" stroke-width="0.7" d="M274.8,256.6 L280.2,259.1 M277.9,255.8 L276.6,260.2"/>
<!-- knob C (side) -->
<path fill="#fff" d="M310.8,306 L318,303.5 L319.6,316.6 L312,318 Z"/>
<path fill="#fff" d="M318.2,316.5 L318.2,315.6 L318.3,314.7 L318.4,313.9 L318.6,313.0 L318.8,312.2 L319.1,311.4 L319.4,310.6 L319.8,309.9 L320.2,309.3 L320.6,308.7 L321.1,308.1 L321.6,307.7 L322.1,307.3 L322.7,306.9 L323.2,306.6 L323.8,306.5 L324.4,306.3 L325.0,306.3 L325.6,306.3 L332.1,307.1 L332.7,307.3 L333.3,307.4 L333.8,307.7 L334.4,308.1 L334.9,308.5 L335.4,308.9 L335.9,309.5 L336.3,310.1 L336.7,310.7 L337.1,311.4 L337.4,312.2 L337.7,313.0 L337.9,313.8 L338.1,314.7 L338.2,315.5 L338.3,316.4 L338.3,317.3 L338.3,318.2 L338.2,319.1 L338.1,319.9 L337.9,320.8 L337.7,321.6 L337.4,322.4 L337.1,323.2 L336.7,323.9 L336.3,324.5 L335.9,325.1 L335.4,325.7 L334.9,326.1 L334.4,326.5 L333.8,326.9 L333.3,327.2 L332.7,327.3 L332.1,327.5 L331.5,327.5 L330.9,327.5 L324.4,326.7 L323.8,326.5 L323.2,326.4 L322.7,326.1 L322.1,325.7 L321.6,325.3 L321.1,324.9 L320.6,324.3 L320.2,323.7 L319.8,323.1 L319.4,322.4 L319.1,321.6 L318.8,320.8 L318.6,320.0 L318.4,319.1 L318.3,318.3 L318.2,317.4 Z"/>
<path stroke-width="1.5" stroke-linecap="butt" d="M329.6,327.1 L323.1,326.3 M327.8,325.9 L321.3,325.1 M326.4,324.0 L319.9,323.2 M325.3,321.5 L318.8,320.7 M324.8,318.8 L318.3,318.0 M324.8,315.8 L318.3,315.0 M325.3,313.1 L318.8,312.3 M326.4,310.6 L319.9,309.8 M327.8,308.7 L321.3,307.9 M329.6,307.5 L323.1,306.7 M331.5,307.1 L325.0,306.3"/>
<ellipse fill="#fff" stroke-width="1.1" cx="331.5" cy="317.3" rx="6.8" ry="10.2" transform="rotate(0 331.5 317.3)"/>
<path d="M318.2,316.5 L318.2,315.6 L318.3,314.7 L318.4,313.9 L318.6,313.0 L318.8,312.2 L319.1,311.4 L319.4,310.6 L319.8,309.9 L320.2,309.3 L320.6,308.7 L321.1,308.1 L321.6,307.7 L322.1,307.3 L322.7,306.9 L323.2,306.6 L323.8,306.5 L324.4,306.3 L325.0,306.3 L325.6,306.3 L332.1,307.1 L332.7,307.3 L333.3,307.4 L333.8,307.7 L334.4,308.1 L334.9,308.5 L335.4,308.9 L335.9,309.5 L336.3,310.1 L336.7,310.7 L337.1,311.4 L337.4,312.2 L337.7,313.0 L337.9,313.8 L338.1,314.7 L338.2,315.5 L338.3,316.4 L338.3,317.3 L338.3,318.2 L338.2,319.1 L338.1,319.9 L337.9,320.8 L337.7,321.6 L337.4,322.4 L337.1,323.2 L336.7,323.9 L336.3,324.5 L335.9,325.1 L335.4,325.7 L334.9,326.1 L334.4,326.5 L333.8,326.9 L333.3,327.2 L332.7,327.3 L332.1,327.5 L331.5,327.5 L330.9,327.5 L324.4,326.7 L323.8,326.5 L323.2,326.4 L322.7,326.1 L322.1,325.7 L321.6,325.3 L321.1,324.9 L320.6,324.3 L320.2,323.7 L319.8,323.1 L319.4,322.4 L319.1,321.6 L318.8,320.8 L318.6,320.0 L318.4,319.1 L318.3,318.3 L318.2,317.4 Z"/>
<path fill="#2a2a2a" stroke="none" d="M327.3,314 L334,313 L335,322.5 L328.3,323.5 Z"/>
<path stroke="#fff" stroke-width="0.8" d="M329,316 L333,320 M333,315.5 L329.5,321"/>
<!-- ===== handle 7 ===== -->
<!-- lever (flat bar) -->
<path fill="#fff" d="M187,250 L197,245 L224,283 Q222,287 218,285 Z"/>
<path d="M189.5,252 L219,285.5 M197,246.4 L223.5,284"/>
<!-- handle body -->
<path fill="#fff" d="M188.1,235.3 L188.1,234.8 L188.2,234.4 L188.3,234.0 L188.4,233.6 L188.6,233.3 L188.8,233.1 L189.0,232.9 L236.0,205.4 L236.3,205.3 L236.6,205.2 L236.9,205.2 L237.3,205.3 L237.7,205.4 L238.1,205.6 L238.5,205.8 L238.9,206.1 L239.4,206.4 L239.9,206.8 L240.3,207.2 L240.8,207.7 L241.3,208.2 L241.7,208.8 L242.2,209.4 L242.6,210.0 L243.0,210.6 L243.4,211.3 L243.8,211.9 L244.2,212.6 L244.5,213.3 L244.8,214.0 L245.0,214.6 L245.3,215.3 L245.5,215.9 L245.6,216.5 L245.7,217.1 L245.8,217.7 L245.9,218.2 L245.9,218.7 L245.8,219.1 L245.7,219.5 L245.6,219.9 L245.4,220.2 L245.2,220.4 L245.0,220.6 L198.0,248.1 L197.7,248.2 L197.4,248.3 L197.1,248.3 L196.7,248.2 L196.3,248.1 L195.9,247.9 L195.5,247.7 L195.1,247.4 L194.6,247.1 L194.1,246.7 L193.7,246.3 L193.2,245.8 L192.7,245.3 L192.3,244.7 L191.8,244.1 L191.4,243.5 L191.0,242.9 L190.6,242.2 L190.2,241.6 L189.8,240.9 L189.5,240.2 L189.2,239.5 L189.0,238.9 L188.7,238.2 L188.5,237.6 L188.4,237.0 L188.3,236.4 L188.2,235.8 Z"/>
<path stroke-width="1.2" stroke-linecap="butt" d="M189.7,232.7 L236.7,205.2 M191.4,233.2 L238.4,205.7 M193.4,234.9 L240.4,207.4 M195.5,237.3 L242.5,209.8 M197.2,240.3 L244.2,212.8 M198.4,243.3 L245.4,215.8 M198.9,245.8 L245.9,218.3 M198.5,247.6 L245.5,220.1"/>
<ellipse fill="#fff" stroke-width="1.1" cx="193.5" cy="240.5" rx="8.8" ry="3.4" transform="rotate(59.3 193.5 240.5)"/>
<path d="M188.1,235.3 L188.1,234.8 L188.2,234.4 L188.3,234.0 L188.4,233.6 L188.6,233.3 L188.8,233.1 L189.0,232.9 L236.0,205.4 L236.3,205.3 L236.6,205.2 L236.9,205.2 L237.3,205.3 L237.7,205.4 L238.1,205.6 L238.5,205.8 L238.9,206.1 L239.4,206.4 L239.9,206.8 L240.3,207.2 L240.8,207.7 L241.3,208.2 L241.7,208.8 L242.2,209.4 L242.6,210.0 L243.0,210.6 L243.4,211.3 L243.8,211.9 L244.2,212.6 L244.5,213.3 L244.8,214.0 L245.0,214.6 L245.3,215.3 L245.5,215.9 L245.6,216.5 L245.7,217.1 L245.8,217.7 L245.9,218.2 L245.9,218.7 L245.8,219.1 L245.7,219.5 L245.6,219.9 L245.4,220.2 L245.2,220.4 L245.0,220.6 L198.0,248.1 L197.7,248.2 L197.4,248.3 L197.1,248.3 L196.7,248.2 L196.3,248.1 L195.9,247.9 L195.5,247.7 L195.1,247.4 L194.6,247.1 L194.1,246.7 L193.7,246.3 L193.2,245.8 L192.7,245.3 L192.3,244.7 L191.8,244.1 L191.4,243.5 L191.0,242.9 L190.6,242.2 L190.2,241.6 L189.8,240.9 L189.5,240.2 L189.2,239.5 L189.0,238.9 L188.7,238.2 L188.5,237.6 L188.4,237.0 L188.3,236.4 L188.2,235.8 Z"/>
<ellipse fill="#fff" cx="241.5" cy="213" rx="8.6" ry="5.2" transform="rotate(59.3 241.5 213)"/>
<ellipse cx="240" cy="213.8" rx="8.6" ry="3.2" transform="rotate(59.3 240 213.8)" stroke-width="0.8"/>
<!-- collar + nut at left end -->
<path fill="#fff" d="M185.9,238.1 L185.9,237.7 L185.9,237.3 L186.0,237.0 L186.1,236.7 L186.3,236.4 L186.5,236.2 L186.7,236.1 L190.2,234.1 L190.4,233.9 L190.7,233.9 L191.0,233.9 L191.3,233.9 L191.6,234.0 L192.0,234.1 L192.3,234.3 L192.7,234.6 L193.1,234.9 L193.5,235.2 L193.9,235.5 L194.3,235.9 L194.7,236.4 L195.1,236.9 L195.5,237.4 L195.9,237.9 L196.2,238.4 L196.6,239.0 L196.9,239.5 L197.2,240.1 L197.5,240.7 L197.7,241.3 L198.0,241.8 L198.1,242.4 L198.3,242.9 L198.4,243.5 L198.5,244.0 L198.6,244.5 L198.6,244.9 L198.6,245.3 L198.6,245.7 L198.5,246.0 L198.4,246.3 L198.2,246.6 L198.0,246.8 L197.8,246.9 L194.3,248.9 L194.1,249.1 L193.8,249.1 L193.5,249.1 L193.2,249.1 L192.9,249.0 L192.5,248.9 L192.2,248.7 L191.8,248.4 L191.4,248.1 L191.0,247.8 L190.6,247.5 L190.2,247.1 L189.8,246.6 L189.4,246.1 L189.0,245.6 L188.6,245.1 L188.3,244.6 L187.9,244.0 L187.6,243.5 L187.3,242.9 L187.0,242.3 L186.8,241.7 L186.5,241.2 L186.4,240.6 L186.2,240.1 L186.1,239.5 L186.0,239.0 L185.9,238.5 Z"/>
<path stroke-width="1" stroke-linecap="butt" d="M187.5,235.9 L191.0,233.9 M189.6,236.9 L193.1,234.9 M192.0,239.4 L195.5,237.4 M194.0,242.7 L197.5,240.7 M195.0,246.0 L198.5,244.0 M194.9,248.3 L198.4,246.3"/>
<ellipse fill="#fff" stroke-width="1.1" cx="190.5" cy="242.5" rx="7.5" ry="3" transform="rotate(59.3 190.5 242.5)"/>
<path d="M185.9,238.1 L185.9,237.7 L185.9,237.3 L186.0,237.0 L186.1,236.7 L186.3,236.4 L186.5,236.2 L186.7,236.1 L190.2,234.1 L190.4,233.9 L190.7,233.9 L191.0,233.9 L191.3,233.9 L191.6,234.0 L192.0,234.1 L192.3,234.3 L192.7,234.6 L193.1,234.9 L193.5,235.2 L193.9,235.5 L194.3,235.9 L194.7,236.4 L195.1,236.9 L195.5,237.4 L195.9,237.9 L196.2,238.4 L196.6,239.0 L196.9,239.5 L197.2,240.1 L197.5,240.7 L197.7,241.3 L198.0,241.8 L198.1,242.4 L198.3,242.9 L198.4,243.5 L198.5,244.0 L198.6,244.5 L198.6,244.9 L198.6,245.3 L198.6,245.7 L198.5,246.0 L198.4,246.3 L198.2,246.6 L198.0,246.8 L197.8,246.9 L194.3,248.9 L194.1,249.1 L193.8,249.1 L193.5,249.1 L193.2,249.1 L192.9,249.0 L192.5,248.9 L192.2,248.7 L191.8,248.4 L191.4,248.1 L191.0,247.8 L190.6,247.5 L190.2,247.1 L189.8,246.6 L189.4,246.1 L189.0,245.6 L188.6,245.1 L188.3,244.6 L187.9,244.0 L187.6,243.5 L187.3,242.9 L187.0,242.3 L186.8,241.7 L186.5,241.2 L186.4,240.6 L186.2,240.1 L186.1,239.5 L186.0,239.0 L185.9,238.5 Z"/>
<path fill="#fff" d="M179.5,244.7 L179.5,244.3 L179.6,243.8 L179.7,243.4 L179.8,243.0 L180.0,242.6 L180.2,242.2 L180.4,241.8 L180.7,241.5 L181.0,241.2 L181.3,240.9 L181.6,240.7 L186.6,237.7 L187.0,237.5 L187.4,237.3 L187.8,237.2 L188.2,237.1 L188.7,237.1 L189.1,237.1 L189.5,237.2 L190.0,237.2 L190.4,237.4 L190.8,237.5 L191.2,237.7 L191.6,238.0 L192.0,238.2 L192.4,238.6 L192.7,238.9 L193.1,239.3 L193.4,239.6 L193.6,240.0 L193.9,240.5 L194.1,240.9 L194.2,241.4 L194.4,241.8 L194.4,242.3 L194.5,242.8 L194.5,243.3 L194.5,243.7 L194.4,244.2 L194.3,244.6 L194.2,245.0 L194.0,245.4 L193.8,245.8 L193.6,246.2 L193.3,246.5 L193.0,246.8 L192.7,247.1 L192.4,247.3 L187.4,250.3 L187.0,250.5 L186.6,250.7 L186.2,250.8 L185.8,250.9 L185.3,250.9 L184.9,250.9 L184.5,250.8 L184.0,250.8 L183.6,250.6 L183.2,250.5 L182.8,250.3 L182.4,250.0 L182.0,249.8 L181.6,249.4 L181.3,249.1 L180.9,248.7 L180.6,248.4 L180.4,248.0 L180.1,247.5 L179.9,247.1 L179.8,246.6 L179.6,246.2 L179.6,245.7 L179.5,245.2 Z"/>
<ellipse fill="#fff" stroke-width="1.1" cx="184.5" cy="245.5" rx="5.6" ry="4.8" transform="rotate(59.3 184.5 245.5)"/>
<path d="M179.5,244.7 L179.5,244.3 L179.6,243.8 L179.7,243.4 L179.8,243.0 L180.0,242.6 L180.2,242.2 L180.4,241.8 L180.7,241.5 L181.0,241.2 L181.3,240.9 L181.6,240.7 L186.6,237.7 L187.0,237.5 L187.4,237.3 L187.8,237.2 L188.2,237.1 L188.7,237.1 L189.1,237.1 L189.5,237.2 L190.0,237.2 L190.4,237.4 L190.8,237.5 L191.2,237.7 L191.6,238.0 L192.0,238.2 L192.4,238.6 L192.7,238.9 L193.1,239.3 L193.4,239.6 L193.6,240.0 L193.9,240.5 L194.1,240.9 L194.2,241.4 L194.4,241.8 L194.4,242.3 L194.5,242.8 L194.5,243.3 L194.5,243.7 L194.4,244.2 L194.3,244.6 L194.2,245.0 L194.0,245.4 L193.8,245.8 L193.6,246.2 L193.3,246.5 L193.0,246.8 L192.7,247.1 L192.4,247.3 L187.4,250.3 L187.0,250.5 L186.6,250.7 L186.2,250.8 L185.8,250.9 L185.3,250.9 L184.9,250.9 L184.5,250.8 L184.0,250.8 L183.6,250.6 L183.2,250.5 L182.8,250.3 L182.4,250.0 L182.0,249.8 L181.6,249.4 L181.3,249.1 L180.9,248.7 L180.6,248.4 L180.4,248.0 L180.1,247.5 L179.9,247.1 L179.8,246.6 L179.6,246.2 L179.6,245.7 L179.5,245.2 Z"/>
<path d="M197.5,189.8 L172.5,189.8 M197.5,189.8 L213.3,217.3"/>
<text class="t" x="181.5" y="187.2" transform="translate(181.5 0) scale(0.8 1) translate(-181.5 0)">7</text>
<!-- ===== front: end bracket, slide 9 ===== -->
<!-- lower body under box (front) -->
<path fill="#fff" d="M207,407.4 L217,412 L217,431 L207,432 Z"/>
<!-- end bracket (U plate) -->
<path fill="#fff" d="M145.3,349 L123.9,359.9 Q120.9,361.5 120.9,364.5 L120.9,388.6 L124.9,391.5 L131,391 L145.3,383 Z"/>
<path d="M145.3,352 L125.8,361.8 Q123.9,363 123.9,366 L123.9,389.5"/>
<path fill="#fff" d="M115,367.5 L120.9,366.8 L120.9,382.6 L115,383.5 Z"/>
<path d="M117,368.5 L117,382.5"/>
<path fill="#fff" d="M124.9,367 L129.8,366 L131,391 L126,391.5 Z"/>
<path d="M127,369 L127.5,390 M126,372 L130,371.5 M126,380 L130,379.5"/>
<!-- slide block (front plate) -->
<path fill="#fff" d="M133.8,374.7 L141.7,371.7 L165.4,384.6 L165.4,401.4 L158.5,404.4 L138.7,396.5 L133.8,390 Z"/>
<path d="M133.8,374.7 L158.5,387.6 L165.4,384.6 M158.5,387.6 L158.5,404.4 M138.7,377.5 L138.7,396.5"/>
<ellipse cx="135.7" cy="377.7" rx="1.2" ry="1.5"/><ellipse cx="140.7" cy="380.6" rx="1.2" ry="1.5"/>
<ellipse cx="154.6" cy="387.8" rx="1.4" ry="1.8"/><ellipse cx="154.6" cy="402" rx="1.4" ry="1.8"/>
<!-- wing screw -->
<path fill="#fff" d="M137.5,392 Q137,388 141,387.8 L146,389 Q149,390 148.5,393 Q147,396 143,395.5 L139.5,395.5 Q137.7,394.5 137.5,392 Z"/>
<path d="M141,389.5 Q143,392 142,395"/>
<path fill="#fff" d="M138.5,396 L142.5,396.5 L140,404 Q138,405 136.5,403.5 Z"/>
<!-- rail -->
<path fill="#fff" d="M162.5,387.6 L166,385.8 L200.1,405 L201.5,407.4 L201.5,414 L197.1,415.3 L162.5,397 Z"/>
<path d="M162.5,387.6 L197.1,407.5 L200.1,405 M197.1,407.5 L197.1,415.3"/>
<path d="M164,390.5 L197,409.5 M164,392.7 L197,411.5 M164,395 L197,413.5"/>
<path stroke-width="1.5" d="M165,391.6 L196.5,410.4"/>
<path d="M149.6,402.4 L175.3,415.3"/>
<!-- clamp plate around knob 9 -->
<path fill="#fff" d="M177.3,412.3 L182,410 L201.1,421 L201.1,428.2 L196,431 L177.3,420 Z"/>
<path d="M177.3,412.3 L197,423.5 L201.1,421 M197,423.5 L197,431"/>
<ellipse cx="196" cy="427" rx="1.5" ry="1.9"/>
<!-- knob 9 connector -->
<path fill="#fff" d="M172.7,426.5 L172.8,426.0 L172.8,425.5 L172.9,425.0 L173.1,424.5 L173.3,424.0 L173.5,423.6 L173.8,423.2 L174.1,422.8 L174.5,422.4 L174.8,422.1 L175.2,421.9 L184.2,416.9 L184.7,416.7 L185.1,416.5 L185.6,416.4 L186.1,416.3 L186.6,416.2 L187.1,416.2 L187.6,416.3 L188.1,416.4 L188.6,416.6 L189.1,416.8 L189.5,417.0 L190.0,417.3 L190.4,417.6 L190.9,418.0 L191.3,418.4 L191.6,418.8 L192.0,419.3 L192.3,419.8 L192.5,420.3 L192.8,420.8 L192.9,421.3 L193.1,421.8 L193.2,422.4 L193.2,422.9 L193.3,423.5 L193.2,424.0 L193.2,424.5 L193.1,425.0 L192.9,425.5 L192.7,426.0 L192.5,426.4 L192.2,426.8 L191.9,427.2 L191.5,427.6 L191.2,427.9 L190.8,428.1 L181.8,433.1 L181.3,433.3 L180.9,433.5 L180.4,433.6 L179.9,433.7 L179.4,433.8 L178.9,433.8 L178.4,433.7 L177.9,433.6 L177.4,433.4 L176.9,433.2 L176.5,433.0 L176.0,432.7 L175.6,432.4 L175.1,432.0 L174.7,431.6 L174.4,431.2 L174.0,430.7 L173.7,430.2 L173.5,429.7 L173.2,429.2 L173.1,428.7 L172.9,428.2 L172.8,427.6 L172.8,427.1 Z"/>
<ellipse fill="#fff" stroke-width="1.1" cx="187.5" cy="422.5" rx="5.5" ry="6.5" transform="rotate(-30 187.5 422.5)"/>
<path d="M172.7,426.5 L172.8,426.0 L172.8,425.5 L172.9,425.0 L173.1,424.5 L173.3,424.0 L173.5,423.6 L173.8,423.2 L174.1,422.8 L174.5,422.4 L174.8,422.1 L175.2,421.9 L184.2,416.9 L184.7,416.7 L185.1,416.5 L185.6,416.4 L186.1,416.3 L186.6,416.2 L187.1,416.2 L187.6,416.3 L188.1,416.4 L188.6,416.6 L189.1,416.8 L189.5,417.0 L190.0,417.3 L190.4,417.6 L190.9,418.0 L191.3,418.4 L191.6,418.8 L192.0,419.3 L192.3,419.8 L192.5,420.3 L192.8,420.8 L192.9,421.3 L193.1,421.8 L193.2,422.4 L193.2,422.9 L193.3,423.5 L193.2,424.0 L193.2,424.5 L193.1,425.0 L192.9,425.5 L192.7,426.0 L192.5,426.4 L192.2,426.8 L191.9,427.2 L191.5,427.6 L191.2,427.9 L190.8,428.1 L181.8,433.1 L181.3,433.3 L180.9,433.5 L180.4,433.6 L179.9,433.7 L179.4,433.8 L178.9,433.8 L178.4,433.7 L177.9,433.6 L177.4,433.4 L176.9,433.2 L176.5,433.0 L176.0,432.7 L175.6,432.4 L175.1,432.0 L174.7,431.6 L174.4,431.2 L174.0,430.7 L173.7,430.2 L173.5,429.7 L173.2,429.2 L173.1,428.7 L172.9,428.2 L172.8,427.6 L172.8,427.1 Z"/>
<ellipse cx="187.5" cy="422.5" rx="3.5" ry="4.5" transform="rotate(-30 187.5 422.5)" stroke-width="0.8"/>
<path fill="#fff" d="M167.7,431.2 L167.7,430.8 L167.8,430.5 L167.8,430.2 L167.9,429.9 L168.0,429.6 L168.2,429.4 L168.3,429.1 L168.5,428.9 L168.7,428.7 L169.0,428.5 L169.2,428.3 L175.2,424.8 L175.5,424.7 L175.7,424.6 L176.0,424.5 L176.3,424.5 L176.6,424.5 L176.9,424.5 L177.2,424.5 L177.5,424.6 L177.8,424.7 L178.1,424.8 L178.4,425.0 L178.7,425.1 L178.9,425.3 L179.2,425.6 L179.4,425.8 L179.7,426.1 L179.9,426.4 L180.1,426.7 L180.2,427.0 L180.4,427.3 L180.5,427.6 L180.6,427.9 L180.6,428.3 L180.7,428.6 L180.7,428.9 L180.7,429.3 L180.6,429.6 L180.6,429.9 L180.5,430.2 L180.4,430.5 L180.2,430.7 L180.1,431.0 L179.9,431.2 L179.7,431.4 L179.4,431.6 L179.2,431.8 L173.2,435.3 L172.9,435.4 L172.7,435.5 L172.4,435.6 L172.1,435.6 L171.8,435.6 L171.5,435.6 L171.2,435.6 L170.9,435.5 L170.6,435.4 L170.3,435.3 L170.0,435.1 L169.7,435.0 L169.5,434.8 L169.2,434.5 L169.0,434.3 L168.7,434.0 L168.5,433.7 L168.3,433.4 L168.2,433.1 L168.0,432.8 L167.9,432.5 L167.8,432.2 L167.8,431.8 L167.7,431.5 Z"/>
<path stroke-width="0.9" stroke-linecap="butt" d="M177.1,432.1 L171.1,435.6 M175.1,430.9 L169.1,434.4 M173.9,428.8 L167.9,432.3 M173.9,426.5 L167.9,430.0"/>
<ellipse fill="#fff" stroke-width="1.1" cx="177.2" cy="428.3" rx="3.3" ry="4" transform="rotate(-30 177.2 428.3)"/>
<path d="M167.7,431.2 L167.7,430.8 L167.8,430.5 L167.8,430.2 L167.9,429.9 L168.0,429.6 L168.2,429.4 L168.3,429.1 L168.5,428.9 L168.7,428.7 L169.0,428.5 L169.2,428.3 L175.2,424.8 L175.5,424.7 L175.7,424.6 L176.0,424.5 L176.3,424.5 L176.6,424.5 L176.9,424.5 L177.2,424.5 L177.5,424.6 L177.8,424.7 L178.1,424.8 L178.4,425.0 L178.7,425.1 L178.9,425.3 L179.2,425.6 L179.4,425.8 L179.7,426.1 L179.9,426.4 L180.1,426.7 L180.2,427.0 L180.4,427.3 L180.5,427.6 L180.6,427.9 L180.6,428.3 L180.7,428.6 L180.7,428.9 L180.7,429.3 L180.6,429.6 L180.6,429.9 L180.5,430.2 L180.4,430.5 L180.2,430.7 L180.1,431.0 L179.9,431.2 L179.7,431.4 L179.4,431.6 L179.2,431.8 L173.2,435.3 L172.9,435.4 L172.7,435.5 L172.4,435.6 L172.1,435.6 L171.8,435.6 L171.5,435.6 L171.2,435.6 L170.9,435.5 L170.6,435.4 L170.3,435.3 L170.0,435.1 L169.7,435.0 L169.5,434.8 L169.2,434.5 L169.0,434.3 L168.7,434.0 L168.5,433.7 L168.3,433.4 L168.2,433.1 L168.0,432.8 L167.9,432.5 L167.8,432.2 L167.8,431.8 L167.7,431.5 Z"/>
<ellipse cx="172.4" cy="431.2" rx="2.6" ry="3.1" transform="rotate(-30 172.4 431.2)" fill="#fff" stroke-width="1.9"/>
<path d="M177.5,433.3 L170.3,471 L146.3,471"/>
<text class="t" x="155" y="467.5" transform="translate(155 0) scale(0.8 1) translate(-155 0)">9</text>
<!-- wheel 1 -->
<path fill="#fff" d="M211.9,422.3 L212.0,420.9 L212.1,419.5 L212.4,418.2 L212.7,416.8 L213.2,415.5 L213.7,414.3 L214.3,413.1 L215.1,412.0 L215.9,411.0 L216.7,410.0 L217.7,409.2 L218.7,408.4 L219.7,407.8 L220.8,407.3 L221.9,406.8 L223.1,406.5 L233.1,404.0 L234.2,403.9 L235.4,403.8 L236.6,403.9 L237.7,404.0 L238.9,404.3 L240.0,404.8 L241.1,405.3 L242.2,405.9 L243.1,406.7 L244.1,407.5 L244.9,408.5 L245.7,409.5 L246.5,410.6 L247.1,411.8 L247.6,413.0 L248.1,414.3 L248.4,415.7 L248.7,417.0 L248.8,418.4 L248.9,419.8 L248.8,421.2 L248.7,422.6 L248.4,423.9 L248.1,425.3 L247.6,426.6 L247.1,427.8 L246.5,429.0 L245.7,430.1 L244.9,431.1 L244.1,432.1 L243.1,432.9 L242.2,433.7 L241.1,434.3 L240.0,434.8 L238.9,435.3 L237.7,435.6 L227.7,438.1 L226.6,438.2 L225.4,438.3 L224.2,438.2 L223.1,438.1 L221.9,437.8 L220.8,437.3 L219.7,436.8 L218.7,436.2 L217.7,435.4 L216.7,434.6 L215.9,433.6 L215.1,432.6 L214.3,431.5 L213.7,430.3 L213.2,429.1 L212.7,427.8 L212.4,426.4 L212.1,425.1 L212.0,423.7 Z"/>
<ellipse fill="#fff" stroke-width="1.1" cx="235.4" cy="419.8" rx="13.5" ry="16" transform="rotate(0 235.4 419.8)"/>
<path d="M211.9,422.3 L212.0,420.9 L212.1,419.5 L212.4,418.2 L212.7,416.8 L213.2,415.5 L213.7,414.3 L214.3,413.1 L215.1,412.0 L215.9,411.0 L216.7,410.0 L217.7,409.2 L218.7,408.4 L219.7,407.8 L220.8,407.3 L221.9,406.8 L223.1,406.5 L233.1,404.0 L234.2,403.9 L235.4,403.8 L236.6,403.9 L237.7,404.0 L238.9,404.3 L240.0,404.8 L241.1,405.3 L242.2,405.9 L243.1,406.7 L244.1,407.5 L244.9,408.5 L245.7,409.5 L246.5,410.6 L247.1,411.8 L247.6,413.0 L248.1,414.3 L248.4,415.7 L248.7,417.0 L248.8,418.4 L248.9,419.8 L248.8,421.2 L248.7,422.6 L248.4,423.9 L248.1,425.3 L247.6,426.6 L247.1,427.8 L246.5,429.0 L245.7,430.1 L244.9,431.1 L244.1,432.1 L243.1,432.9 L242.2,433.7 L241.1,434.3 L240.0,434.8 L238.9,435.3 L237.7,435.6 L227.7,438.1 L226.6,438.2 L225.4,438.3 L224.2,438.2 L223.1,438.1 L221.9,437.8 L220.8,437.3 L219.7,436.8 L218.7,436.2 L217.7,435.4 L216.7,434.6 L215.9,433.6 L215.1,432.6 L214.3,431.5 L213.7,430.3 L213.2,429.1 L212.7,427.8 L212.4,426.4 L212.1,425.1 L212.0,423.7 Z"/>
<ellipse cx="235.4" cy="419.8" rx="10.5" ry="13" stroke-width="0.6"/>
<ellipse cx="235" cy="420.7" rx="6.5" ry="6.8" stroke-width="2"/>
<ellipse cx="235.5" cy="420.7" rx="3.3" ry="3.6"/>
<ellipse cx="235.5" cy="420.7" rx="1.5" ry="1.8" fill="#222"/>
<path d="M226,412 Q223,420 226,430" stroke-width="0.8"/>

<!-- wing nut at bottom of post rod -->
<path fill="#fff" d="M343,332 Q344,328.5 348,329.5 L352,331 L356,329 Q361,328.5 362,332 Q361,336 356,336 L351,336.5 Q346,338 343.5,335.5 Z"/>
<path d="M348,330 Q350,333 349,336.5 M352,331 Q353,334 352,336.5"/>
<!-- leaders 8,1,2,3,4 -->
<path d="M78.5,356.4 L111.6,356.4 L152,318"/>
<text class="t" x="92" y="353.7" transform="translate(92 0) scale(0.8 1) translate(-92 0)">8</text>
<path d="M268,387.2 L297.8,434.2 L316,434.2"/>
<text class="t" x="301" y="431.2" transform="translate(301 0) scale(0.8 1) translate(-301 0)">1</text>
<path d="M308,381.5 L328.7,413.6 L347,413.6"/>
<text class="t" x="331.5" y="410.7" transform="translate(331.5 0) scale(0.8 1) translate(-331.5 0)">2</text>
<path d="M307,330 L345.9,382.7 L364.2,382.7"/>
<text class="t" x="350" y="380.7" transform="translate(350 0) scale(0.8 1) translate(-350 0)">3</text>
<path d="M337.4,234.7 L386.7,296.25 L405,296.25"/>
<text class="t" x="389.5" y="292.8" transform="translate(389.5 0) scale(0.8 1) translate(-389.5 0)">4</text>

<!-- ===================== RIGHT FIGURE ===================== -->
<!-- vertical post (right) -->
<path fill="#fff" d="M590.7,94 L623.3,82 L623.3,99 L619.2,101 L619.2,245 L590.7,245 Z"/>
<path d="M593.5,95 L593.5,245 M598.9,93 L598.9,245 M612.4,88 L612.4,245 M615.1,87 L615.1,245 M619.2,85 L619.2,101"/>
<path stroke-width="1.3" d="M603,92 L603,245 M607.5,90 L607.5,245"/>
<!-- post slide block + wing -->
<path fill="#fff" d="M584,154.3 L592.1,150.3 L609.7,158.4 L609.7,192 L601.6,198 L584,196 Z"/>
<path d="M584,154.3 L601.6,162.5 L609.7,158.4 M601.6,162.5 L601.6,198 M588.6,157 L588.6,196"/>
<path fill="#fff" d="M578.5,162.5 Q579,159.5 583,160 L590,161.5 Q593,159 596,161 Q597.5,165 595,168.5 Q592,170 590,167 L584,166.5 Q579,166 578.5,162.5 Z"/>
<!-- end block (top right) -->
<path fill="#fff" d="M573.1,77.1 L605.6,57.6 L624.6,67.6 L624.6,81 L596,94.5 L592.1,93 L573.1,83 Z"/>
<path d="M573.1,77.1 L592.1,86.6 L624.6,67.6 M592.1,86.6 L592.1,93 M596,88.5 L596,94.5"/>
<path d="M576,75.5 L581,78.5 L586,75.5 L583,74"/>
<ellipse cx="605" cy="61.9" rx="2.4" ry="1.8" fill="#222"/><ellipse cx="598.75" cy="65.6" rx="2.4" ry="1.8" fill="#222"/><ellipse cx="610.6" cy="73.1" rx="2.4" ry="1.8" fill="#222"/><ellipse cx="617.5" cy="68.9" rx="2.4" ry="1.8" fill="#222"/>
<ellipse cx="592.5" cy="69.4" rx="2.7" ry="1.8"/><ellipse cx="605" cy="76.25" rx="2.7" ry="1.8"/>

<!-- arm: rail + housing -->
<path fill="#fff" d="M510.5,138.3 L510.5,143.7 L591.7,103.3 L593.75,95 L590,93 L572,80 L556.3,89.8 L511.8,115.3 Z"/>
<path d="M511.8,115.3 L556.3,89.8 M522.7,121.4 L571.9,98.1 M510.5,138.3 L593.75,95"/>
<path stroke-width="1.7" d="M514.5,117.2 L558.3,93"/>
<path stroke-width="0.8" d="M516,120 L560,95.5"/>
<!-- hook clamp near end block -->
<path fill="#fff" d="M558,88 L570,81 L574,83 L574,79 Q576,77 578,79 L588,85 L588,92 L578,97 L576,94 L566,99 L558,95 Z"/>
<path d="M558,88 L566,92 L578,85.5 M566,92 L566,99 M576,88 L576,94"/>
<ellipse cx="584.5" cy="96.5" rx="1.3" ry="1.7"/>
<path fill="#fff" d="M555.5,87 L556,80 Q557,77.5 559.5,77.5 L562.5,78.5 Q563.8,79.5 563.7,81 L563.7,86 Z"/>

<!-- arm segment 1 (slide block) -->
<path fill="#fff" d="M463.1,136.3 L499.7,116.7 L511.2,115.3 L521.3,124.1 L522.7,128.2 L482.1,151.8 L481.4,145.7 Z"/>
<path d="M481.4,145.7 L521.3,124.1 M511.2,115.3 L521.3,124.1 M481.4,145.7 L482.1,151.8"/>
<path d="M463.1,136.3 L511.2,110.5"/>
<!-- wing nuts on arm -->
<g transform="translate(0.5 4)">
<path fill="#fff" d="M499,112 Q497,106 499.5,104 Q502,103.5 504,108 L506,113 L510,111 Q513,110 513,114 Q511,119 506,121 Q502,122 500,118 Z"/>
<path d="M502,117 Q505,118 507.5,116"/>
</g>
<path fill="#fff" d="M497,147 Q496,143 499,142 Q502,142 503,146 L505,147 L508,146 Q512,148 510,154 Q506,156 503,153 L500,151 Z"/>

<!-- right-fig rod (behind block & clamp) -->
<path fill="#fff" d="M461.6,180 L477.5,180 L477.5,331 Q469.5,337 461.6,331 Z"/>
<circle cx="464.25" cy="317.5" r="0.9"/><circle cx="464.25" cy="331" r="0.9"/>

<!-- upper slide block under knob D -->
<path fill="#fff" d="M415.9,138.6 L442.9,122.6 L456,131.3 L456,165 L429,181 L415.9,181.3 Z"/>
<path d="M415.9,138.6 L429,147.4 L456,131.3 M429,147.4 L429,181 M418,140 L418,181 M431.2,148.5 L431.2,180 M433.4,147.5 L433.4,179 M448.7,136 L448.7,168 M452.4,134 L452.4,166"/>
<path d="M436.3,142.3 L447.3,137.2"/>
<circle cx="438" cy="141.5" r="0.9" fill="#222"/><circle cx="445" cy="138.3" r="0.9" fill="#222"/>
<ellipse cx="424" cy="136.4" rx="1.7" ry="1.1"/><ellipse cx="428.3" cy="143.7" rx="1.7" ry="1.1"/><ellipse cx="451.6" cy="129.9" rx="1.7" ry="1.1"/>
<!-- knob D -->
<path fill="#fff" d="M431.2,126 L431.2,135.5 Q437.4,140 443.6,135.5 L443.6,126 Z"/>
<path fill="#fff" d="M424.0,116.8 L424.1,116.2 L424.2,115.5 L424.5,114.9 L424.8,114.3 L425.3,113.7 L425.8,113.1 L426.4,112.6 L427.2,112.1 L428.0,111.6 L428.8,111.2 L429.8,110.8 L430.8,110.5 L431.8,110.2 L432.9,109.9 L434.0,109.7 L435.2,109.6 L436.3,109.5 L437.5,109.5 L438.7,109.5 L439.8,109.6 L441.0,109.7 L442.1,109.9 L443.2,110.2 L444.2,110.5 L445.2,110.8 L446.2,111.2 L447.0,111.6 L447.8,112.1 L448.6,112.6 L449.2,113.2 L449.7,113.7 L450.2,114.3 L450.5,114.9 L450.8,115.5 L450.9,116.2 L451.0,116.8 L451.0,123.3 L450.9,123.9 L450.8,124.6 L450.5,125.2 L450.2,125.8 L449.7,126.4 L449.2,127.0 L448.6,127.5 L447.8,128.0 L447.0,128.5 L446.2,128.9 L445.2,129.3 L444.2,129.6 L443.2,129.9 L442.1,130.2 L441.0,130.4 L439.8,130.5 L438.7,130.6 L437.5,130.6 L436.3,130.6 L435.2,130.5 L434.0,130.4 L432.9,130.2 L431.8,129.9 L430.8,129.6 L429.8,129.3 L428.8,128.9 L428.0,128.5 L427.2,128.0 L426.4,127.5 L425.8,127.0 L425.3,126.4 L424.8,125.8 L424.5,125.2 L424.2,124.6 L424.1,123.9 L424.0,123.3 Z"/>
<path stroke-width="1.5" stroke-linecap="butt" d="M450.8,118.1 L450.8,124.6 M449.2,120.5 L449.2,127.0 M446.2,122.4 L446.2,128.9 M442.1,123.7 L442.1,130.2 M437.5,124.1 L437.5,130.6 M432.9,123.7 L432.9,130.2 M428.8,122.4 L428.8,128.9 M425.8,120.5 L425.8,127.0 M424.2,118.1 L424.2,124.6"/>
<ellipse fill="#fff" stroke-width="1.1" cx="437.5" cy="116.8" rx="13.5" ry="7.3" transform="rotate(0 437.5 116.8)"/>
<path d="M424.0,116.8 L424.1,116.2 L424.2,115.5 L424.5,114.9 L424.8,114.3 L425.3,113.7 L425.8,113.1 L426.4,112.6 L427.2,112.1 L428.0,111.6 L428.8,111.2 L429.8,110.8 L430.8,110.5 L431.8,110.2 L432.9,109.9 L434.0,109.7 L435.2,109.6 L436.3,109.5 L437.5,109.5 L438.7,109.5 L439.8,109.6 L441.0,109.7 L442.1,109.9 L443.2,110.2 L444.2,110.5 L445.2,110.8 L446.2,111.2 L447.0,111.6 L447.8,112.1 L448.6,112.6 L449.2,113.2 L449.7,113.7 L450.2,114.3 L450.5,114.9 L450.8,115.5 L450.9,116.2 L451.0,116.8 L451.0,123.3 L450.9,123.9 L450.8,124.6 L450.5,125.2 L450.2,125.8 L449.7,126.4 L449.2,127.0 L448.6,127.5 L447.8,128.0 L447.0,128.5 L446.2,128.9 L445.2,129.3 L444.2,129.6 L443.2,129.9 L442.1,130.2 L441.0,130.4 L439.8,130.5 L438.7,130.6 L437.5,130.6 L436.3,130.6 L435.2,130.5 L434.0,130.4 L432.9,130.2 L431.8,129.9 L430.8,129.6 L429.8,129.3 L428.8,128.9 L428.0,128.5 L427.2,128.0 L426.4,127.5 L425.8,127.0 L425.3,126.4 L424.8,125.8 L424.5,125.2 L424.2,124.6 L424.1,123.9 L424.0,123.3 Z"/>
<path fill="#2a2a2a" stroke="#2a2a2a" stroke-width="0.6" d="M430.2,116.5 L437.8,113.3 L443.3,118.1 L435.8,121.6 Z"/>
<path stroke="#fff" stroke-width="0.7" d="M433.9,116.1 L439.7,118.6 M437.3,115.1 L435.9,119.9"/>

<!-- main block (right fig) -->
<path fill="#fff" d="M422.8,164.4 L428,161.3 L468,138.8 L481.3,141 L481.3,172 L440,201 L435.3,202.9 L423.1,195.4 Z"/>
<path d="M430,164.5 L470,142"/>
<!-- L bracket at right -->
<path fill="#fff" d="M468,138.8 Q470,136.8 473,137.3 L481.3,141 L481.3,171.3 L473,171.3 L473,141.5 Z"/>
<path d="M475.5,140 L475.5,171"/>
<!-- end flange -->
<path fill="#fff" d="M422.8,166 Q422.8,163.5 425,163.8 L437.5,169.8 Q439.7,170.8 439.7,173 L440,199 Q440,202 437,202.5 L425,196.5 Q423.1,195.4 423.1,193 Z"/>
<path d="M425.5,167.5 L436.5,173 L437.3,198.8 L425.8,193 Z"/>
<ellipse cx="425.5" cy="169.5" rx="1.2" ry="1.6"/><ellipse cx="433.5" cy="178.5" rx="1.2" ry="1.6"/><ellipse cx="433.5" cy="195.4" rx="1.2" ry="1.6"/><ellipse cx="426" cy="187" rx="1.2" ry="1.6"/>
<!-- knob E -->
<path fill="#fff" d="M418,181 L427,179.5 L431.6,183 L431.6,193 L425,196 L418,196 Z"/>
<path fill="#fff" d="M402.2,190.1 L402.2,189.1 L402.3,188.1 L402.4,187.1 L402.6,186.1 L402.9,185.2 L403.2,184.4 L403.6,183.5 L404.0,182.8 L404.5,182.1 L405.0,181.5 L405.6,180.9 L406.2,180.4 L406.8,180.0 L407.5,179.7 L408.2,179.5 L414.0,177.9 L414.7,177.7 L415.4,177.7 L416.1,177.7 L416.8,177.8 L417.5,178.0 L418.2,178.3 L418.9,178.7 L419.6,179.2 L420.3,179.7 L420.9,180.3 L421.5,181.0 L422.0,181.8 L422.5,182.6 L423.0,183.4 L423.4,184.3 L423.7,185.3 L424.0,186.2 L424.2,187.2 L424.4,188.3 L424.5,189.3 L424.6,190.3 L424.6,191.3 L424.5,192.3 L424.4,193.3 L424.2,194.3 L423.9,195.2 L423.6,196.0 L423.2,196.9 L422.8,197.6 L422.3,198.3 L421.8,198.9 L421.2,199.5 L420.6,200.0 L420.0,200.4 L419.3,200.7 L418.6,200.9 L412.8,202.5 L412.1,202.7 L411.4,202.7 L410.7,202.7 L410.0,202.6 L409.3,202.4 L408.6,202.1 L407.9,201.7 L407.2,201.2 L406.5,200.7 L405.9,200.1 L405.3,199.4 L404.8,198.6 L404.3,197.8 L403.8,197.0 L403.4,196.1 L403.1,195.1 L402.8,194.2 L402.6,193.2 L402.4,192.1 L402.3,191.1 Z"/>
<path stroke-width="1.5" stroke-linecap="butt" d="M418.8,191.5 L424.6,189.9 M418.6,194.8 L424.4,193.2 M417.7,197.8 L423.5,196.2 M416.3,200.2 L422.1,198.6 M414.4,201.9 L420.2,200.3 M408.9,179.3 L414.7,177.7 M411.2,179.5 L417.0,177.9 M413.5,180.6 L419.3,179.0 M415.6,182.5 L421.4,180.9 M417.2,185.1 L423.0,183.5 M418.3,188.2 L424.1,186.6"/>
<ellipse fill="#fff" stroke-width="1.1" cx="410.5" cy="191.0" rx="8.2" ry="11.8" transform="rotate(-8 410.5 191.0)"/>
<path d="M402.2,190.1 L402.2,189.1 L402.3,188.1 L402.4,187.1 L402.6,186.1 L402.9,185.2 L403.2,184.4 L403.6,183.5 L404.0,182.8 L404.5,182.1 L405.0,181.5 L405.6,180.9 L406.2,180.4 L406.8,180.0 L407.5,179.7 L408.2,179.5 L414.0,177.9 L414.7,177.7 L415.4,177.7 L416.1,177.7 L416.8,177.8 L417.5,178.0 L418.2,178.3 L418.9,178.7 L419.6,179.2 L420.3,179.7 L420.9,180.3 L421.5,181.0 L422.0,181.8 L422.5,182.6 L423.0,183.4 L423.4,184.3 L423.7,185.3 L424.0,186.2 L424.2,187.2 L424.4,188.3 L424.5,189.3 L424.6,190.3 L424.6,191.3 L424.5,192.3 L424.4,193.3 L424.2,194.3 L423.9,195.2 L423.6,196.0 L423.2,196.9 L422.8,197.6 L422.3,198.3 L421.8,198.9 L421.2,199.5 L420.6,200.0 L420.0,200.4 L419.3,200.7 L418.6,200.9 L412.8,202.5 L412.1,202.7 L411.4,202.7 L410.7,202.7 L410.0,202.6 L409.3,202.4 L408.6,202.1 L407.9,201.7 L407.2,201.2 L406.5,200.7 L405.9,200.1 L405.3,199.4 L404.8,198.6 L404.3,197.8 L403.8,197.0 L403.4,196.1 L403.1,195.1 L402.8,194.2 L402.6,193.2 L402.4,192.1 L402.3,191.1 Z"/>
<path fill="#2a2a2a" stroke="none" d="M406.3,187 L412.8,186 L413.8,196.2 L407.3,197.2 Z"/>
<path stroke="#fff" stroke-width="0.8" d="M408,189 L412,194 M412,188.5 L408.5,195"/>

<!-- clamp on right fig block (U-shaped) -->
<path fill="#fff" d="M446.9,175.8 L470.9,161.5 L489.8,172.3 L489.8,184 L481.8,188.5 L480.7,190 Q478,195.5 474.4,195.8 L456,194.5 Q448,192 446.9,186.7 Z"/>
<path d="M446.9,175.8 Q449,182 457.2,183.6 L474.4,184.8 Q480,183 481.2,177 L489.8,172.3 M481.2,177 L481.8,188.5 M446.9,186.7 L446.9,175.8"/>
<path fill="#fff" d="M458.7,176 L458.7,178.5 A10.5,4.8 0 0 0 479.7,178.5 L479.7,176 Z"/>
<ellipse fill="#fff" cx="469.2" cy="176" rx="10.5" ry="4.8"/>
<path fill="#fff" d="M461.8,170.3 L461.8,176.5 A7.4,3.4 0 0 0 476.6,176.5 L476.6,170.3 Z"/>
<ellipse fill="#fff" cx="469.2" cy="170.3" rx="7.4" ry="4.1"/>
<path stroke-width="0.8" d="M460,178.5 A9.5,3.8 0 0 0 478.5,178.5"/>
<ellipse cx="485.8" cy="181" rx="1.4" ry="2"/>
<!-- torch holder plate (right) -->
<path fill="#fff" d="M476.5,300 L478.5,302 L479,327.2 Q492,332 502,342 Q508,352 507,367.3 L503,372 L494,372 L476.5,340 Z"/>
<path d="M480.5,329.5 Q491,334.5 499.5,343.5 Q505,352 504.5,367"/>
<path stroke-width="2.2" d="M492,338 Q497,341 499,344"/>
<!-- torch clamp (right) -->
<path fill="#fff" d="M476.9,341.0 L482.7,335.9 L503.1,348.3 L503.1,356.3 L497.3,361.4 L476.9,349.0 Z"/><path d="M476.9,341.0 L497.3,353.4 L503.1,348.3 M497.3,353.4 L497.3,361.4"/>
<path d="M481,344 L492,350.5 L495.8,348 L485,342 Z"/>
<path d="M486,344.5 L489,346.3 M489.5,346.5 L492.5,348.3"/>
<path fill="#fff" d="M494.4,352 L499,349.8 L504.6,352.5 L504.6,369 L499,371.6 L494.4,369 Z"/>
<path d="M499,352.5 L499,371.6 M494.4,352 L499,354.5 L504.6,352.5"/>
<circle cx="497.3" cy="361.4" r="0.8" fill="#222"/>
<path fill="#fff" d="M477.5,357.0 L485.5,352.5 L494.0,357.5 L494.0,367.5 L486.0,372.0 L477.5,367.0 Z"/><path d="M477.5,357.0 L486.0,362.0 L494.0,357.5 M486.0,362.0 L486.0,372.0"/>
<path fill="#fff" d="M482.0,369.0 L488.0,365.8 L494.0,369.3 L494.0,377.3 L488.0,380.5 L482.0,377.0 Z"/><path d="M482.0,369.0 L488.0,372.5 L494.0,369.3 M488.0,372.5 L488.0,380.5"/>
<path fill="#fff" d="M460.8,350.5 L468.1,346.2 L476.9,352.0 L476.9,363.0 L469.6,367.3 L460.8,361.5 Z"/><path d="M460.8,350.5 L469.6,356.3 L476.9,352.0 M469.6,356.3 L469.6,367.3"/>
<path fill="#fff" d="M470.3,350.0 L476.8,346.2 L480.8,348.6 L480.8,356.6 L474.3,360.4 L470.3,358.0 Z"/><path d="M470.3,350.0 L474.3,352.4 L480.8,348.6 M474.3,352.4 L474.3,360.4"/>
<path d="M475,350 L475,359 M477,349 L477,358 M479,348 L479,357"/>
<path fill="#fff" d="M460.8,363 L469.6,367.3 L476,370 L481,376 L482.7,382 L481,387.7 L470,388 L462.5,384 L460.8,374 Z"/>
<path d="M469.6,367.3 L475,376 L482.7,382 M475,376 L474,388"/>
<ellipse fill="#fff" cx="465.5" cy="379.5" rx="4" ry="4.6"/>
<path d="M468.5,376.5 L472,375 M469,382.5 L472.5,383.5"/>

<!-- right fig: upper block A (2 holes) -->
<path fill="#fff" d="M565.6,227.2 L573.2,222.5 L591.9,229 L591.9,258 L577.8,264 L565.6,258 Z"/>
<path d="M565.6,227.2 L577.8,233.8 L591.9,229 M577.8,233.8 L577.8,264"/>
<ellipse cx="568.5" cy="236" rx="1.5" ry="2"/><ellipse cx="575.5" cy="238" rx="1.5" ry="2"/>
<path d="M580,244 L588,240 M580,250 L588,246"/>
<circle cx="580.5" cy="244.5" r="0.9" fill="#222"/>

<!-- knob (under handle) slide block + knob + side knob -->
<path fill="#fff" d="M603,206 L613.8,201 L636.7,210 L636.7,221 L625,228 L603,218 Z"/>
<path d="M603,206 L625,216 L636.7,210 M625,216 L625,228"/>
<ellipse cx="618" cy="211" rx="1.5" ry="1"/>
<path fill="#fff" d="M605,202 L605,210 Q610.4,214 615.8,210 L615.8,202 Z"/>
<path fill="#fff" d="M596.8,195.0 L596.9,194.4 L597.0,193.9 L597.3,193.3 L597.6,192.8 L598.1,192.3 L598.6,191.8 L599.3,191.3 L600.0,190.9 L600.8,190.5 L601.7,190.1 L602.6,189.8 L603.6,189.5 L604.7,189.2 L605.7,189.0 L606.9,188.8 L608.0,188.7 L609.2,188.6 L610.4,188.6 L611.6,188.6 L612.8,188.7 L613.9,188.8 L615.1,189.0 L616.1,189.2 L617.2,189.5 L618.2,189.8 L619.1,190.1 L620.0,190.5 L620.8,190.9 L621.5,191.3 L622.2,191.8 L622.7,192.3 L623.2,192.8 L623.5,193.3 L623.8,193.9 L623.9,194.4 L624.0,195.0 L624.0,201.0 L623.9,201.6 L623.8,202.1 L623.5,202.7 L623.2,203.2 L622.7,203.7 L622.2,204.2 L621.5,204.7 L620.8,205.1 L620.0,205.5 L619.1,205.9 L618.2,206.2 L617.2,206.5 L616.1,206.8 L615.1,207.0 L613.9,207.2 L612.8,207.3 L611.6,207.4 L610.4,207.4 L609.2,207.4 L608.0,207.3 L606.9,207.2 L605.7,207.0 L604.7,206.8 L603.6,206.5 L602.6,206.2 L601.7,205.9 L600.8,205.5 L600.0,205.1 L599.3,204.7 L598.6,204.2 L598.1,203.7 L597.6,203.2 L597.3,202.7 L597.0,202.1 L596.9,201.6 L596.8,201.0 Z"/>
<path stroke-width="1.5" stroke-linecap="butt" d="M623.8,196.1 L623.8,202.1 M622.2,198.2 L622.2,204.2 M619.1,199.9 L619.1,205.9 M615.1,201.0 L615.1,207.0 M610.4,201.4 L610.4,207.4 M605.7,201.0 L605.7,207.0 M601.7,199.9 L601.7,205.9 M598.6,198.2 L598.6,204.2 M597.0,196.1 L597.0,202.1"/>
<ellipse fill="#fff" stroke-width="1.1" cx="610.4" cy="195.0" rx="13.6" ry="6.4" transform="rotate(0 610.4 195.0)"/>
<path d="M596.8,195.0 L596.9,194.4 L597.0,193.9 L597.3,193.3 L597.6,192.8 L598.1,192.3 L598.6,191.8 L599.3,191.3 L600.0,190.9 L600.8,190.5 L601.7,190.1 L602.6,189.8 L603.6,189.5 L604.7,189.2 L605.7,189.0 L606.9,188.8 L608.0,188.7 L609.2,188.6 L610.4,188.6 L611.6,188.6 L612.8,188.7 L613.9,188.8 L615.1,189.0 L616.1,189.2 L617.2,189.5 L618.2,189.8 L619.1,190.1 L620.0,190.5 L620.8,190.9 L621.5,191.3 L622.2,191.8 L622.7,192.3 L623.2,192.8 L623.5,193.3 L623.8,193.9 L623.9,194.4 L624.0,195.0 L624.0,201.0 L623.9,201.6 L623.8,202.1 L623.5,202.7 L623.2,203.2 L622.7,203.7 L622.2,204.2 L621.5,204.7 L620.8,205.1 L620.0,205.5 L619.1,205.9 L618.2,206.2 L617.2,206.5 L616.1,206.8 L615.1,207.0 L613.9,207.2 L612.8,207.3 L611.6,207.4 L610.4,207.4 L609.2,207.4 L608.0,207.3 L606.9,207.2 L605.7,207.0 L604.7,206.8 L603.6,206.5 L602.6,206.2 L601.7,205.9 L600.8,205.5 L600.0,205.1 L599.3,204.7 L598.6,204.2 L598.1,203.7 L597.6,203.2 L597.3,202.7 L597.0,202.1 L596.9,201.6 L596.8,201.0 Z"/>
<path fill="#2a2a2a" stroke="#2a2a2a" stroke-width="0.6" d="M602.6,194.4 L610.5,191.1 L616.3,196.1 L608.4,199.8 Z"/>
<path stroke="#fff" stroke-width="0.7" d="M606.5,194.0 L612.5,196.7 M610.0,193.0 L608.5,198.0"/>
<path fill="#fff" d="M624,206 L630,203 L632,214 L626,217 Z"/>
<path fill="#fff" d="M624.9,210.1 L624.9,209.1 L625.0,208.1 L625.1,207.1 L625.3,206.2 L625.5,205.3 L625.8,204.5 L626.1,203.7 L626.5,202.9 L626.9,202.3 L627.4,201.7 L627.9,201.1 L628.5,200.7 L629.0,200.3 L629.6,200.0 L630.3,199.7 L630.9,199.6 L636.4,198.6 L637.1,198.6 L637.7,198.6 L638.4,198.7 L639.0,198.9 L639.7,199.2 L640.3,199.6 L640.9,200.1 L641.5,200.6 L642.1,201.2 L642.7,201.9 L643.2,202.6 L643.6,203.4 L644.1,204.2 L644.4,205.1 L644.8,206.0 L645.0,207.0 L645.3,208.0 L645.4,209.0 L645.5,210.0 L645.6,210.9 L645.6,211.9 L645.5,212.9 L645.4,213.9 L645.2,214.8 L645.0,215.7 L644.7,216.5 L644.4,217.3 L644.0,218.1 L643.6,218.7 L643.1,219.3 L642.6,219.9 L642.0,220.3 L641.5,220.7 L640.9,221.0 L640.2,221.3 L639.6,221.4 L634.1,222.4 L633.4,222.4 L632.8,222.4 L632.1,222.3 L631.5,222.1 L630.8,221.8 L630.2,221.4 L629.6,220.9 L629.0,220.4 L628.4,219.8 L627.8,219.1 L627.3,218.4 L626.9,217.6 L626.4,216.8 L626.1,215.9 L625.7,215.0 L625.5,214.0 L625.2,213.0 L625.1,212.0 L625.0,211.0 Z"/>
<path stroke-width="1.6" stroke-linecap="butt" d="M640.1,211.6 L645.6,210.6 M639.9,214.8 L645.4,213.8 M639.2,217.7 L644.7,216.7 M637.9,220.0 L643.4,219.0 M636.1,221.6 L641.6,220.6 M633.1,199.8 L638.6,198.8 M635.2,200.9 L640.7,199.9 M637.1,202.8 L642.6,201.8 M638.6,205.3 L644.1,204.3 M639.6,208.3 L645.1,207.3"/>
<ellipse fill="#fff" stroke-width="1.1" cx="632.5" cy="211.0" rx="7.5" ry="11.5" transform="rotate(-8 632.5 211.0)"/>
<path d="M624.9,210.1 L624.9,209.1 L625.0,208.1 L625.1,207.1 L625.3,206.2 L625.5,205.3 L625.8,204.5 L626.1,203.7 L626.5,202.9 L626.9,202.3 L627.4,201.7 L627.9,201.1 L628.5,200.7 L629.0,200.3 L629.6,200.0 L630.3,199.7 L630.9,199.6 L636.4,198.6 L637.1,198.6 L637.7,198.6 L638.4,198.7 L639.0,198.9 L639.7,199.2 L640.3,199.6 L640.9,200.1 L641.5,200.6 L642.1,201.2 L642.7,201.9 L643.2,202.6 L643.6,203.4 L644.1,204.2 L644.4,205.1 L644.8,206.0 L645.0,207.0 L645.3,208.0 L645.4,209.0 L645.5,210.0 L645.6,210.9 L645.6,211.9 L645.5,212.9 L645.4,213.9 L645.2,214.8 L645.0,215.7 L644.7,216.5 L644.4,217.3 L644.0,218.1 L643.6,218.7 L643.1,219.3 L642.6,219.9 L642.0,220.3 L641.5,220.7 L640.9,221.0 L640.2,221.3 L639.6,221.4 L634.1,222.4 L633.4,222.4 L632.8,222.4 L632.1,222.3 L631.5,222.1 L630.8,221.8 L630.2,221.4 L629.6,220.9 L629.0,220.4 L628.4,219.8 L627.8,219.1 L627.3,218.4 L626.9,217.6 L626.4,216.8 L626.1,215.9 L625.7,215.0 L625.5,214.0 L625.2,213.0 L625.1,212.0 L625.0,211.0 Z"/>

<!-- lever band (strap) -->
<path fill="#fff" d="M612,231 L616,235 L578,254 Q568,259 567,270 L566,280 L562,279 L563,268 Q564,255 575,249 Z"/>
<path d="M614,233 L577,251.5 Q566.5,257 565,269 L564,279.5"/>
<circle cx="609" cy="236" r="2.2"/>

<!-- handle (right fig) -->
<path fill="#fff" d="M559.6,198.4 L559.6,197.9 L559.7,197.5 L559.8,197.0 L559.9,196.5 L560.0,195.9 L560.2,195.4 L560.4,194.8 L560.7,194.3 L560.9,193.8 L561.2,193.2 L561.5,192.7 L561.8,192.2 L562.2,191.7 L562.5,191.3 L562.9,190.8 L563.3,190.4 L563.7,190.1 L564.0,189.7 L564.4,189.4 L564.8,189.2 L565.2,189.0 L565.5,188.8 L565.9,188.7 L566.2,188.6 L566.5,188.6 L566.8,188.6 L567.1,188.7 L567.4,188.8 L615.4,215.3 L615.6,215.4 L615.8,215.6 L616.0,215.9 L616.1,216.2 L616.2,216.5 L616.3,216.9 L616.4,217.3 L616.4,217.7 L616.4,218.2 L616.3,218.6 L616.2,219.1 L616.1,219.6 L616.0,220.2 L615.8,220.7 L615.6,221.3 L615.3,221.8 L615.1,222.3 L614.8,222.9 L614.5,223.4 L614.2,223.9 L613.8,224.4 L613.5,224.8 L613.1,225.3 L612.7,225.7 L612.3,226.0 L612.0,226.4 L611.6,226.7 L611.2,226.9 L610.8,227.1 L610.5,227.3 L610.1,227.4 L609.8,227.5 L609.5,227.5 L609.2,227.5 L608.9,227.4 L608.6,227.3 L560.6,200.8 L560.4,200.7 L560.2,200.5 L560.0,200.2 L559.9,199.9 L559.8,199.6 L559.7,199.2 L559.6,198.8 Z"/>
<path stroke-width="1.15" stroke-linecap="butt" d="M567.9,189.2 L615.9,215.7 M568.4,190.7 L616.4,217.2 M568.2,192.8 L616.2,219.3 M567.4,195.2 L615.4,221.7 M566.1,197.5 L614.1,224.0 M564.4,199.4 L612.4,225.9 M562.7,200.7 L610.7,227.2 M561.2,201.0 L609.2,227.5"/>
<ellipse fill="#fff" stroke-width="1.1" cx="564.0" cy="194.8" rx="6.9" ry="3.2" transform="rotate(-60.7 564.0 194.8)"/>
<path d="M559.6,198.4 L559.6,197.9 L559.7,197.5 L559.8,197.0 L559.9,196.5 L560.0,195.9 L560.2,195.4 L560.4,194.8 L560.7,194.3 L560.9,193.8 L561.2,193.2 L561.5,192.7 L561.8,192.2 L562.2,191.7 L562.5,191.3 L562.9,190.8 L563.3,190.4 L563.7,190.1 L564.0,189.7 L564.4,189.4 L564.8,189.2 L565.2,189.0 L565.5,188.8 L565.9,188.7 L566.2,188.6 L566.5,188.6 L566.8,188.6 L567.1,188.7 L567.4,188.8 L615.4,215.3 L615.6,215.4 L615.8,215.6 L616.0,215.9 L616.1,216.2 L616.2,216.5 L616.3,216.9 L616.4,217.3 L616.4,217.7 L616.4,218.2 L616.3,218.6 L616.2,219.1 L616.1,219.6 L616.0,220.2 L615.8,220.7 L615.6,221.3 L615.3,221.8 L615.1,222.3 L614.8,222.9 L614.5,223.4 L614.2,223.9 L613.8,224.4 L613.5,224.8 L613.1,225.3 L612.7,225.7 L612.3,226.0 L612.0,226.4 L611.6,226.7 L611.2,226.9 L610.8,227.1 L610.5,227.3 L610.1,227.4 L609.8,227.5 L609.5,227.5 L609.2,227.5 L608.9,227.4 L608.6,227.3 L560.6,200.8 L560.4,200.7 L560.2,200.5 L560.0,200.2 L559.9,199.9 L559.8,199.6 L559.7,199.2 L559.6,198.8 Z"/>
<ellipse cx="564" cy="194.8" rx="5" ry="2.2" transform="rotate(-60.7 564 194.8)" stroke-width="0.8"/>
<path fill="#fff" d="M608.1,225.9 L608.2,225.4 L608.2,224.9 L608.3,224.4 L608.4,223.8 L608.6,223.2 L608.8,222.6 L609.0,222.0 L609.3,221.4 L609.5,220.8 L609.9,220.2 L610.2,219.7 L610.6,219.1 L610.9,218.6 L611.3,218.1 L611.7,217.6 L612.1,217.2 L612.6,216.8 L613.0,216.4 L613.4,216.1 L613.8,215.8 L614.2,215.6 L614.7,215.4 L615.0,215.2 L615.4,215.2 L615.8,215.1 L616.1,215.2 L616.4,215.2 L616.7,215.4 L621.7,218.2 L622.0,218.4 L622.2,218.6 L622.4,218.9 L622.6,219.2 L622.7,219.5 L622.8,219.9 L622.8,220.4 L622.9,220.9 L622.8,221.4 L622.8,221.9 L622.7,222.4 L622.6,223.0 L622.4,223.6 L622.2,224.2 L622.0,224.8 L621.7,225.4 L621.5,226.0 L621.1,226.6 L620.8,227.1 L620.4,227.7 L620.1,228.2 L619.7,228.7 L619.3,229.2 L618.9,229.6 L618.4,230.0 L618.0,230.4 L617.6,230.7 L617.2,231.0 L616.8,231.2 L616.3,231.4 L616.0,231.6 L615.6,231.6 L615.2,231.7 L614.9,231.6 L614.6,231.6 L614.3,231.4 L609.3,228.6 L609.0,228.4 L608.8,228.2 L608.6,227.9 L608.4,227.6 L608.3,227.3 L608.2,226.9 L608.2,226.4 Z"/>
<path stroke-width="1.2" stroke-linecap="butt" d="M617.3,215.8 L622.3,218.6 M617.8,217.5 L622.8,220.3 M617.7,219.8 L622.7,222.6 M616.8,222.4 L621.8,225.2 M615.4,225.0 L620.4,227.8 M613.5,227.1 L618.5,229.9 M611.7,228.5 L616.7,231.3 M610.0,228.8 L615.0,231.6"/>
<ellipse fill="#fff" stroke-width="1.1" cx="613.0" cy="222.0" rx="7.6" ry="3.6" transform="rotate(-60.7 613.0 222.0)"/>
<path d="M608.1,225.9 L608.2,225.4 L608.2,224.9 L608.3,224.4 L608.4,223.8 L608.6,223.2 L608.8,222.6 L609.0,222.0 L609.3,221.4 L609.5,220.8 L609.9,220.2 L610.2,219.7 L610.6,219.1 L610.9,218.6 L611.3,218.1 L611.7,217.6 L612.1,217.2 L612.6,216.8 L613.0,216.4 L613.4,216.1 L613.8,215.8 L614.2,215.6 L614.7,215.4 L615.0,215.2 L615.4,215.2 L615.8,215.1 L616.1,215.2 L616.4,215.2 L616.7,215.4 L621.7,218.2 L622.0,218.4 L622.2,218.6 L622.4,218.9 L622.6,219.2 L622.7,219.5 L622.8,219.9 L622.8,220.4 L622.9,220.9 L622.8,221.4 L622.8,221.9 L622.7,222.4 L622.6,223.0 L622.4,223.6 L622.2,224.2 L622.0,224.8 L621.7,225.4 L621.5,226.0 L621.1,226.6 L620.8,227.1 L620.4,227.7 L620.1,228.2 L619.7,228.7 L619.3,229.2 L618.9,229.6 L618.4,230.0 L618.0,230.4 L617.6,230.7 L617.2,231.0 L616.8,231.2 L616.3,231.4 L616.0,231.6 L615.6,231.6 L615.2,231.7 L614.9,231.6 L614.6,231.6 L614.3,231.4 L609.3,228.6 L609.0,228.4 L608.8,228.2 L608.6,227.9 L608.4,227.6 L608.3,227.3 L608.2,226.9 L608.2,226.4 Z"/>
<path fill="#fff" d="M614.8,229.2 L614.8,228.7 L614.8,228.2 L614.9,227.7 L615.0,227.1 L615.2,226.6 L615.3,226.0 L615.6,225.4 L615.8,224.9 L616.1,224.3 L616.4,223.7 L616.7,223.2 L617.0,222.7 L617.4,222.2 L617.8,221.7 L618.1,221.2 L618.5,220.8 L618.9,220.5 L619.4,220.1 L619.8,219.8 L620.2,219.6 L620.6,219.3 L621.0,219.2 L621.4,219.1 L621.7,219.0 L622.1,219.0 L622.4,219.0 L622.7,219.1 L623.0,219.2 L628.5,222.2 L628.8,222.4 L629.0,222.6 L629.2,222.9 L629.4,223.2 L629.5,223.6 L629.6,223.9 L629.7,224.4 L629.7,224.8 L629.7,225.3 L629.7,225.8 L629.6,226.3 L629.5,226.9 L629.3,227.4 L629.2,228.0 L628.9,228.6 L628.7,229.1 L628.4,229.7 L628.1,230.3 L627.8,230.8 L627.5,231.3 L627.1,231.8 L626.7,232.3 L626.4,232.8 L626.0,233.2 L625.6,233.5 L625.1,233.9 L624.7,234.2 L624.3,234.4 L623.9,234.7 L623.5,234.8 L623.1,234.9 L622.8,235.0 L622.4,235.0 L622.1,235.0 L621.8,234.9 L621.5,234.8 L616.0,231.8 L615.7,231.6 L615.5,231.4 L615.3,231.1 L615.1,230.8 L615.0,230.4 L614.9,230.1 L614.8,229.6 Z"/>
<ellipse fill="#fff" stroke-width="1.1" cx="619.5" cy="225.5" rx="7.2" ry="3.6" transform="rotate(-60.7 619.5 225.5)"/>
<path d="M614.8,229.2 L614.8,228.7 L614.8,228.2 L614.9,227.7 L615.0,227.1 L615.2,226.6 L615.3,226.0 L615.6,225.4 L615.8,224.9 L616.1,224.3 L616.4,223.7 L616.7,223.2 L617.0,222.7 L617.4,222.2 L617.8,221.7 L618.1,221.2 L618.5,220.8 L618.9,220.5 L619.4,220.1 L619.8,219.8 L620.2,219.6 L620.6,219.3 L621.0,219.2 L621.4,219.1 L621.7,219.0 L622.1,219.0 L622.4,219.0 L622.7,219.1 L623.0,219.2 L628.5,222.2 L628.8,222.4 L629.0,222.6 L629.2,222.9 L629.4,223.2 L629.5,223.6 L629.6,223.9 L629.7,224.4 L629.7,224.8 L629.7,225.3 L629.7,225.8 L629.6,226.3 L629.5,226.9 L629.3,227.4 L629.2,228.0 L628.9,228.6 L628.7,229.1 L628.4,229.7 L628.1,230.3 L627.8,230.8 L627.5,231.3 L627.1,231.8 L626.7,232.3 L626.4,232.8 L626.0,233.2 L625.6,233.5 L625.1,233.9 L624.7,234.2 L624.3,234.4 L623.9,234.7 L623.5,234.8 L623.1,234.9 L622.8,235.0 L622.4,235.0 L622.1,235.0 L621.8,234.9 L621.5,234.8 L616.0,231.8 L615.7,231.6 L615.5,231.4 L615.3,231.1 L615.1,230.8 L615.0,230.4 L614.9,230.1 L614.8,229.6 Z"/>
<ellipse fill="#fff" cx="625" cy="228.5" rx="7.2" ry="4.5" transform="rotate(-60.7 625 228.5)"/>

<!-- block B, C and side torch-clamp-like unit (11 area) -->
<!-- frame bars -->
<path fill="#fff" d="M541,289.7 L561.9,278.2 L569.2,283.4 L595,301.7 L595,312 L577.5,318 L550.4,303 L541,297.5 Z"/>
<path d="M541,289.7 L550.4,294.4 L569.2,283.4 M550.4,294.4 L550.4,310 M550.4,294.4 L577.5,310"/>
<path fill="#fff" d="M533.8,289.5 Q534,286.5 537.5,286.8 L541,288 L541,293 L537,293.3 Q534,292.8 533.8,289.5 Z"/>
<path fill="#fff" d="M544,283.5 Q544.5,281 547.5,281.4 L549.5,282.5 L549.5,286 L546.5,286 Q544,285.5 544,283.5 Z"/>
<path fill="#fff" d="M553.5,266.0 L558.5,263.4 L565.0,266.4 L565.0,274.9 L560.0,277.5 L553.5,274.5 Z"/><path d="M553.5,266.0 L560.0,269.0 L565.0,266.4 M560.0,269.0 L560.0,277.5"/>
<path fill="#fff" d="M556.0,262.5 L561.0,260.0 L567.0,263.0 L567.0,267.0 L562.0,269.5 L556.0,266.5 Z"/><path d="M556.0,262.5 L562.0,265.5 L567.0,263.0 M562.0,265.5 L562.0,269.5"/>
<path fill="#fff" d="M565.6,266.0 L571.1,263.0 L579.1,267.0 L579.1,284.0 L573.6,287.0 L565.6,283.0 Z"/><path d="M565.6,266.0 L573.6,270.0 L579.1,267.0 M573.6,270.0 L573.6,287.0"/>
<!-- torch clamp unit (right fig, near 11) -->
<path fill="#fff" d="M581.2,261.2 L595.2,254.2 L604.2,258.8 L604.2,265.8 L590.2,272.8 L581.2,268.2 Z"/><path d="M581.2,261.2 L590.2,265.8 L604.2,258.8 M590.2,265.8 L590.2,272.8"/>
<path fill="#fff" d="M591.9,262.0 L598.9,258.5 L602.9,260.5 L602.9,266.5 L595.9,270.0 L591.9,268.0 Z"/><path d="M591.9,262.0 L595.9,264.0 L602.9,260.5 M595.9,264.0 L595.9,270.0"/>
<path d="M596,262 L596,269 M598,261 L598,268 M600,260 L600,267"/>
<path fill="#fff" d="M579.4,268.0 L583.9,265.8 L589.9,268.8 L589.9,277.8 L585.4,280.0 L579.4,277.0 Z"/><path d="M579.4,268.0 L585.4,271.0 L589.9,268.8 M585.4,271.0 L585.4,280.0"/>
<path fill="#fff" d="M579.4,279.0 L583.9,276.8 L589.9,279.8 L589.9,288.8 L585.4,291.0 L579.4,288.0 Z"/><path d="M579.4,279.0 L585.4,282.0 L589.9,279.8 M585.4,282.0 L585.4,291.0"/>
<path fill="#fff" d="M589.5,270.0 L599.5,265.0 L605.5,268.0 L605.5,278.0 L595.5,283.0 L589.5,280.0 Z"/><path d="M589.5,270.0 L595.5,273.0 L605.5,268.0 M595.5,273.0 L595.5,283.0"/>
<path fill="#fff" d="M589.4,281 L600,276 L609,282 L613.1,290 L612,298 L603,300 L594,298 L589.4,292 Z"/>
<path d="M600,276 L603,286 L613.1,290 M603,286 L594,298"/>
<path fill="#fff" d="M600.8,291.8 L600.8,291.5 L600.9,291.2 L600.9,290.8 L601.0,290.5 L601.2,290.2 L601.3,289.9 L601.5,289.7 L601.7,289.4 L601.9,289.2 L602.1,289.0 L602.4,288.9 L602.7,288.7 L606.7,286.7 L607.0,286.6 L607.3,286.5 L607.6,286.5 L607.9,286.5 L608.2,286.5 L608.5,286.5 L608.8,286.6 L609.2,286.7 L609.5,286.8 L609.8,287.0 L610.1,287.2 L610.4,287.4 L610.6,287.6 L610.9,287.9 L611.1,288.1 L611.3,288.4 L611.5,288.8 L611.7,289.1 L611.8,289.4 L612.0,289.8 L612.1,290.1 L612.1,290.5 L612.2,290.8 L612.2,291.2 L612.2,291.5 L612.1,291.8 L612.1,292.2 L612.0,292.5 L611.8,292.8 L611.7,293.1 L611.5,293.3 L611.3,293.6 L611.1,293.8 L610.9,294.0 L610.6,294.1 L610.3,294.3 L606.3,296.3 L606.0,296.4 L605.7,296.5 L605.4,296.5 L605.1,296.5 L604.8,296.5 L604.5,296.5 L604.2,296.4 L603.8,296.3 L603.5,296.2 L603.2,296.0 L602.9,295.8 L602.6,295.6 L602.4,295.4 L602.1,295.1 L601.9,294.9 L601.7,294.6 L601.5,294.2 L601.3,293.9 L601.2,293.6 L601.0,293.2 L600.9,292.9 L600.9,292.5 L600.8,292.2 Z"/>
<ellipse fill="#fff" stroke-width="1.1" cx="608.5" cy="290.5" rx="3.5" ry="4.2" transform="rotate(-30 608.5 290.5)"/>
<path d="M600.8,291.8 L600.8,291.5 L600.9,291.2 L600.9,290.8 L601.0,290.5 L601.2,290.2 L601.3,289.9 L601.5,289.7 L601.7,289.4 L601.9,289.2 L602.1,289.0 L602.4,288.9 L602.7,288.7 L606.7,286.7 L607.0,286.6 L607.3,286.5 L607.6,286.5 L607.9,286.5 L608.2,286.5 L608.5,286.5 L608.8,286.6 L609.2,286.7 L609.5,286.8 L609.8,287.0 L610.1,287.2 L610.4,287.4 L610.6,287.6 L610.9,287.9 L611.1,288.1 L611.3,288.4 L611.5,288.8 L611.7,289.1 L611.8,289.4 L612.0,289.8 L612.1,290.1 L612.1,290.5 L612.2,290.8 L612.2,291.2 L612.2,291.5 L612.1,291.8 L612.1,292.2 L612.0,292.5 L611.8,292.8 L611.7,293.1 L611.5,293.3 L611.3,293.6 L611.1,293.8 L610.9,294.0 L610.6,294.1 L610.3,294.3 L606.3,296.3 L606.0,296.4 L605.7,296.5 L605.4,296.5 L605.1,296.5 L604.8,296.5 L604.5,296.5 L604.2,296.4 L603.8,296.3 L603.5,296.2 L603.2,296.0 L602.9,295.8 L602.6,295.6 L602.4,295.4 L602.1,295.1 L601.9,294.9 L601.7,294.6 L601.5,294.2 L601.3,293.9 L601.2,293.6 L601.0,293.2 L600.9,292.9 L600.9,292.5 L600.8,292.2 Z"/>
<path stroke-width="1.8" d="M601,283.5 L605,282"/>
<circle cx="576" cy="274" r="0.8" fill="#222"/><circle cx="607" cy="278" r="0.8" fill="#222"/>

<!-- gearbox body & main drive wheel -->
<path fill="#fff" d="M551.7,295 L580.8,309.6 L597.5,303.3 L622.5,312 L622.5,351.25 L600,349 L584,345 L551.7,330 Z"/>
<path d="M580.8,309.6 L580.8,340 M597.5,303.3 L599.6,316 L599.6,340 L584,345 M580.8,310 L594.4,304.4 L599.6,316"/>
<ellipse cx="616.7" cy="333" rx="1.3" ry="3"/>
<path fill="#fff" d="M553,304 L560,301 L560,330 L553,333 Z"/>
<ellipse fill="#fff" cx="570.4" cy="325.2" rx="12.5" ry="15.2"/>
<ellipse cx="569.3" cy="325" rx="5.3" ry="7.5" stroke-width="1.6"/>
<ellipse cx="569" cy="325" rx="2.3" ry="3" fill="#222"/>
<path d="M575,314 Q579,320 578,330 M561,316 Q558,324 562,333"/>
<circle cx="567" cy="309" r="1" fill="#222"/>
<!-- left roller bracket -->
<path fill="#fff" d="M524.6,302.3 L529.8,301.25 L554.8,313 L554.8,340.8 L550,341 L524.6,327.3 Z"/>
<path d="M527.5,304 L527.5,327 M529.8,301.25 L529.8,304 M552,313 L552,340"/>
<rect x="526.7" y="309.6" width="3.5" height="16.6" rx="1.7"/>
<path d="M532,306 L548,314 M532,309 L548,317 M534,313 L548,320"/>
<ellipse fill="#fff" cx="531" cy="349" rx="11.5" ry="7.5"/>
<ellipse cx="531" cy="351" rx="9" ry="5"/>
<path fill="#fff" d="M518.3,338.75 L530.8,332.5 L555.8,347 L555.8,355.4 L541.25,360.6 L541.25,353.3 L520,343 L518.3,345 Z"/>
<path d="M518.3,338.75 L541.25,353.3 L555.8,347 M518.3,338.75 L518.3,345 L521,346"/>
<path fill="#fff" d="M529,337 L529,341 Q534.5,345 540,341 L540,337 Q534.5,333 529,337 Z"/>
<path d="M531,336 L531,340 M538,336 L538,340"/>

<!-- label 11 -->
<path d="M575,271.25 L533.75,246.9 L509.4,246.9"/>
<text class="t" x="515" y="243.8" transform="translate(515 0) scale(0.72 1) translate(-515 0)">11</text>

<!-- right box -->
<path fill="#fff" d="M620.4,246.9 L692.3,215.6 L729.8,235.4 L730.4,236 L730.4,316.7 L658.3,356.25 L620.8,338.5 Z"/>
<path d="M620.4,246.9 L657.9,266.7 L729.8,235.4 M657.9,266.7 L658.3,356.25"/>
<path d="M649.6,251 L661,246.5 L668.3,255.2 L656.9,259.5 Z"/>
<circle cx="672.5" cy="243.5" r="3.2"/><circle cx="672.5" cy="243" r="1.6" fill="#222"/>
<circle cx="665.5" cy="243.5" r="1"/><circle cx="666.5" cy="247" r="1"/><circle cx="669" cy="249" r="1"/><circle cx="675.5" cy="249" r="1"/><circle cx="679" cy="247" r="1"/>
<circle cx="626.7" cy="246.9" r="0.8" fill="#222"/><circle cx="642.3" cy="252" r="0.8" fill="#222"/><circle cx="660" cy="265.6" r="0.8" fill="#222"/><circle cx="704.8" cy="243.75" r="0.8" fill="#222"/>
<path fill="#fff" d="M634.7,241.5 L634.7,245.0 A4.5,2.0 0 0 0 643.7,245.0 L643.7,241.5 Z"/>
<ellipse fill="#fff" cx="639.2" cy="241.5" rx="4.5" ry="2.0"/>
<path d="M637.6,243.4 L637.6,246.9 M640.8,243.4 L640.8,246.9" stroke-width="0.7"/>
<path fill="#fff" d="M637.7,241.5 L638.0,234.5 Q639.2,232.7 640.4,234.5 L640.7,241.5"/>
<path fill="#fff" d="M651.3,233.0 L651.3,236.5 A4.5,2.0 0 0 0 660.3,236.5 L660.3,233.0 Z"/>
<ellipse fill="#fff" cx="655.8" cy="233.0" rx="4.5" ry="2.0"/>
<path d="M654.2,234.9 L654.2,238.4 M657.4,234.9 L657.4,238.4" stroke-width="0.7"/>
<path fill="#fff" d="M654.3,233.0 L654.6,226.0 Q655.8,224.2 657.0,226.0 L657.3,233.0"/>
<path fill="#fff" d="M673.5,227.0 L673.5,230.5 A4.5,2.0 0 0 0 682.5,230.5 L682.5,227.0 Z"/>
<ellipse fill="#fff" cx="678.0" cy="227.0" rx="4.5" ry="2.0"/>
<path d="M676.4,228.9 L676.4,232.4 M679.6,228.9 L679.6,232.4" stroke-width="0.7"/>
<path fill="#fff" d="M676.5,227.0 L676.8,219.0 Q678.0,217.2 679.2,219.0 L679.5,227.0"/>
<path fill="#fff" d="M690.9,237.5 L690.9,241.0 A4.5,2.0 0 0 0 699.9,241.0 L699.9,237.5 Z"/>
<ellipse fill="#fff" cx="695.4" cy="237.5" rx="4.5" ry="2.0"/>
<path d="M693.8,239.4 L693.8,242.9 M697.0,239.4 L697.0,242.9" stroke-width="0.7"/>
<path fill="#fff" d="M693.9,237.5 L694.2,229.5 Q695.4,227.7 696.6,229.5 L696.9,237.5"/>
<path fill="#fff" d="M687.1,214.0 L687.1,221.0 A5.2,2.6 0 0 0 697.5,221.0 L697.5,214.0 Z"/>
<ellipse fill="#fff" cx="692.3" cy="214.0" rx="5.2" ry="2.6"/>
<path fill="#fff" d="M688.7,210.5 L688.7,214.0 A3.6,1.8 0 0 0 695.9,214.0 L695.9,210.5 Z"/>
<ellipse fill="#fff" cx="692.3" cy="210.5" rx="3.6" ry="1.8"/>
<path d="M687.1,217.8 A5.2,2.6 0 0 0 697.5,217.8" stroke-width="0.7"/>
<path fill="#fff" d="M704.8,224.5 L704.8,231.5 A5.2,2.6 0 0 0 715.2,231.5 L715.2,224.5 Z"/>
<ellipse fill="#fff" cx="710.0" cy="224.5" rx="5.2" ry="2.6"/>
<path fill="#fff" d="M706.4,221.0 L706.4,224.5 A3.6,1.8 0 0 0 713.6,224.5 L713.6,221.0 Z"/>
<ellipse fill="#fff" cx="710.0" cy="221.0" rx="3.6" ry="1.8"/>
<path d="M704.8,228.3 A5.2,2.6 0 0 0 715.2,228.3" stroke-width="0.7"/>
<path stroke-width="0.8" d="M686,214 Q684.5,218 686,222 M698.5,214 Q700,218 698.5,222 M703.8,225 Q702.5,229 704,233 M716,225 Q717.5,229 716,233"/>
<!-- bottom double line of right face -->
<path d="M658.3,353 L730.4,313.5"/>
<!-- front slide on right box -->
<path fill="#fff" d="M662.5,358.3 L681.25,348 L687,350 L714.6,331.25 L715.6,340.6 L687.5,357 L687.5,381.25 L675,386 L662.5,381 Z"/>
<path d="M681.25,348 L687.5,351.5 M662.5,358.3 L668,361 L687.5,351.5 M668,361 L668,384"/>
<path d="M687.5,351.5 L714.6,336 M687.5,354.5 L715,339"/>
<ellipse cx="668.75" cy="362.5" rx="1.2" ry="1.6"/><ellipse cx="683.3" cy="355.2" rx="1.2" ry="1.6"/><ellipse cx="669.8" cy="375" rx="1.2" ry="1.6"/><ellipse cx="684" cy="370" rx="1.2" ry="1.6"/>
<path fill="#fff" d="M715.6,325 Q721,326 723,332 L723,340 Q721,342 717,341.7 Z"/>
<!-- connector on right box slide -->
<path fill="#fff" d="M690,356 L700,350 L712,356 L712,368 L700,372 L690,366 Z"/>
<ellipse cx="695" cy="364" rx="1.3" ry="1.7"/>
<path fill="#fff" d="M701.9,361.0 L701.9,360.6 L702.0,360.3 L702.1,359.9 L702.2,359.6 L702.3,359.3 L702.5,359.0 L702.7,358.7 L702.9,358.5 L703.2,358.2 L703.4,358.0 L703.7,357.9 L704.0,357.7 L704.3,357.6 L704.6,357.5 L705.0,357.4 L705.3,357.4 L705.6,357.4 L706.0,357.4 L706.3,357.5 L706.6,357.6 L707.0,357.7 L718.0,362.7 L718.3,362.9 L718.6,363.0 L718.9,363.2 L719.2,363.5 L719.4,363.7 L719.7,364.0 L719.9,364.3 L720.1,364.6 L720.3,364.9 L720.4,365.3 L720.5,365.6 L720.6,366.0 L720.7,366.3 L720.7,366.7 L720.7,367.0 L720.7,367.4 L720.6,367.7 L720.5,368.1 L720.4,368.4 L720.3,368.7 L720.1,369.0 L719.9,369.3 L719.7,369.5 L719.4,369.8 L719.2,370.0 L718.9,370.1 L718.6,370.3 L718.3,370.4 L718.0,370.5 L717.6,370.6 L717.3,370.6 L717.0,370.6 L716.6,370.6 L716.3,370.5 L716.0,370.4 L715.6,370.3 L704.6,365.3 L704.3,365.1 L704.0,365.0 L703.7,364.8 L703.4,364.5 L703.2,364.3 L702.9,364.0 L702.7,363.7 L702.5,363.4 L702.3,363.1 L702.2,362.7 L702.1,362.4 L702.0,362.0 L701.9,361.7 L701.9,361.3 Z"/>
<ellipse fill="#fff" stroke-width="1.1" cx="716.8" cy="366.5" rx="3.8" ry="4.2" transform="rotate(-30 716.8 366.5)"/>
<path d="M701.9,361.0 L701.9,360.6 L702.0,360.3 L702.1,359.9 L702.2,359.6 L702.3,359.3 L702.5,359.0 L702.7,358.7 L702.9,358.5 L703.2,358.2 L703.4,358.0 L703.7,357.9 L704.0,357.7 L704.3,357.6 L704.6,357.5 L705.0,357.4 L705.3,357.4 L705.6,357.4 L706.0,357.4 L706.3,357.5 L706.6,357.6 L707.0,357.7 L718.0,362.7 L718.3,362.9 L718.6,363.0 L718.9,363.2 L719.2,363.5 L719.4,363.7 L719.7,364.0 L719.9,364.3 L720.1,364.6 L720.3,364.9 L720.4,365.3 L720.5,365.6 L720.6,366.0 L720.7,366.3 L720.7,366.7 L720.7,367.0 L720.7,367.4 L720.6,367.7 L720.5,368.1 L720.4,368.4 L720.3,368.7 L720.1,369.0 L719.9,369.3 L719.7,369.5 L719.4,369.8 L719.2,370.0 L718.9,370.1 L718.6,370.3 L718.3,370.4 L718.0,370.5 L717.6,370.6 L717.3,370.6 L717.0,370.6 L716.6,370.6 L716.3,370.5 L716.0,370.4 L715.6,370.3 L704.6,365.3 L704.3,365.1 L704.0,365.0 L703.7,364.8 L703.4,364.5 L703.2,364.3 L702.9,364.0 L702.7,363.7 L702.5,363.4 L702.3,363.1 L702.2,362.7 L702.1,362.4 L702.0,362.0 L701.9,361.7 L701.9,361.3 Z"/>
<ellipse cx="717" cy="366.6" rx="2" ry="2.3" stroke-width="1.3"/>
<!-- wing screw -->
<path fill="#fff" d="M676,366 Q677,363 681,364 L687,366 L686,371 L681,371.5 Q676.5,370 676,366 Z"/>
<path fill="#fff" d="M681,370 L684,369 L689,378 L686,379.5 Z"/>
<!-- lower bracket under slide -->
<path fill="#fff" d="M652,375 L656,373 L662.5,376 L662.5,386.5 L652,382 Z"/>

<!-- front roller bracket (10) -->
<ellipse fill="#fff" cx="636" cy="357" rx="9.5" ry="11.5"/>
<path fill="#fff" d="M616.7,354 L620,352 L645.8,364 L645.8,391.7 L641,395.8 L616.7,384 Z"/>
<path d="M619.5,355.5 L619.5,383.5 M620,352 L620,355 M643,365 L643,393"/>
<rect x="638.5" y="373" width="3.2" height="18.7" rx="1.6"/>
<path d="M639.2,360 L639.2,368 M639.2,380 L640.8,380"/>
<ellipse fill="#fff" cx="611" cy="399" rx="11" ry="6.5"/>
<ellipse cx="611" cy="401" rx="8.5" ry="4"/>
<path fill="#fff" d="M596.9,383.1 L612.5,375 L635.6,390 L635.6,398.75 L621.25,406.9 L621.25,398.5 L599.5,386 L596.9,393 Z"/>
<path d="M596.9,383.1 L621.25,398.5 L635.6,390 M596.9,383.1 L596.9,393 L599.5,394"/>
<path fill="#fff" d="M608.75,382 L608.75,387 Q614,391.5 619.4,387 L619.4,382 Q614,378 608.75,382 Z"/>
<path d="M611,381 L611,386 M617,381 L617,386"/>

<path d="M608,395.6 L596.25,427.5 L571.25,427.5"/>
<text class="t" x="576.5" y="423.0" transform="translate(576.5 0) scale(0.72 1) translate(-576.5 0)">10</text>

<!-- return symbol -->
<path stroke="#777" stroke-width="1.2" d="M761.6,470 L761.6,474 L756,474.4 M758,472.3 L755.6,474.4 L758,476.6"/>
</g>
</svg>
</body></html>
